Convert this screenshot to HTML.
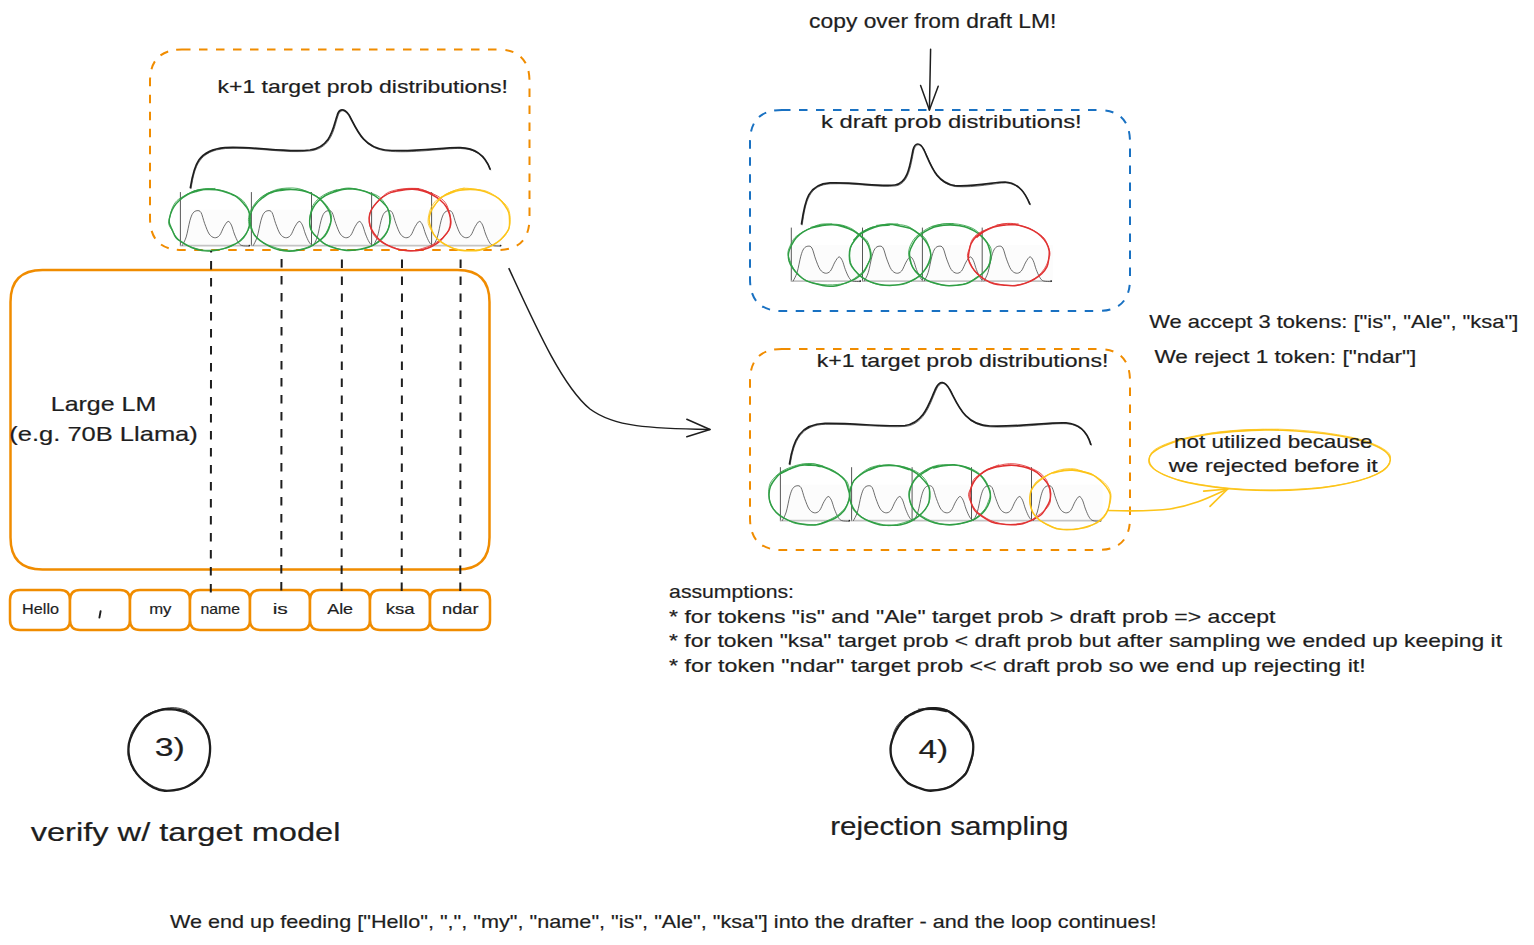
<!DOCTYPE html>
<html><head><meta charset="utf-8"><title>diagram</title>
<style>html,body{margin:0;padding:0;background:#fff;width:1534px;height:945px;overflow:hidden;position:relative}</style>
</head><body>
<svg width="1534" height="945" viewBox="0 0 1534 945" style="position:absolute;left:0;top:0">
<rect width="1534" height="945" fill="#ffffff"/>
<g font-family="Liberation Sans, sans-serif">
<path d="M182.0,49.5 L497.5,49.5 Q529.5,49.5 529.5,81.5 L529.5,218.0 Q529.5,250.0 497.5,250.0 L182.0,250.0 Q150.0,250.0 150.0,218.0 L150.0,81.5 Q150.0,49.5 182.0,49.5 Z" fill="none" stroke="#f08c00" stroke-width="2" stroke-dasharray="8.5 8.5"/>
<text x="217.5" y="92.8" font-size="19" textLength="290.5" lengthAdjust="spacingAndGlyphs" fill="#1e1e1e" stroke="#1e1e1e" stroke-width="0.2" >k+1 target prob distributions!</text>
<path d="M190.4,187.6 C194,165 198,150 225,147.6 C255,146 285,153 310,150 C331,147 333,128 337,116 C339,108 344,108 349,115 C357,130 363,147 385,150 C410,153 445,147 460,147.6 C478,148 486,158 490,169" fill="none" stroke="#1e1e1e" stroke-width="1.7" stroke-linecap="round"/>
<path d="M190.4,187.6 C194,165 198,150 225,147.6 C255,146 285,153 310,150 C331,147 333,128 337,116 C339,108 344,108 349,115 C357,130 363,147 385,150 C410,153 445,147 460,147.6 C478,148 486,158 490,169" fill="none" stroke="#1e1e1e" stroke-width="0.8" stroke-linecap="round" transform="translate(0.7,0.9)" opacity="0.8"/>
<rect x="180.4" y="191.1" width="70" height="56" fill="#ffffff"/>
<rect x="181.4" y="209.6" width="70" height="36" fill="#fcfcfc"/>
<line x1="180.4" y1="192.1" x2="180.4" y2="246.1" stroke="#444" stroke-width="0.9"/>
<line x1="180.4" y1="245.6" x2="249.4" y2="245.6" stroke="#c4c4c4" stroke-width="1.7"/>
<circle cx="249.4" cy="245.6" r="0.9" fill="#222"/>
<path d="M182.10,245.80 C182.78,244.32 184.90,241.13 186.20,236.95 C187.50,232.77 188.78,224.66 189.90,220.70 C191.02,216.74 191.72,214.87 192.90,213.20 C194.08,211.53 195.60,210.82 196.95,210.70 C198.30,210.58 199.71,210.35 201.00,212.50 C202.29,214.65 203.33,220.02 204.70,223.60 C206.07,227.18 207.58,231.65 209.20,234.00 C210.82,236.35 212.68,237.45 214.40,237.70 C216.12,237.95 217.90,237.35 219.50,235.50 C221.10,233.65 222.57,228.95 224.00,226.60 C225.43,224.25 226.87,221.65 228.10,221.40 C229.33,221.15 230.35,223.00 231.40,225.10 C232.45,227.20 233.28,231.17 234.40,234.00 C235.52,236.83 236.87,240.18 238.10,242.10 C239.33,244.02 239.97,244.83 241.80,245.50 C243.63,246.17 247.88,246.00 249.10,246.10" fill="none" stroke="#484848" stroke-width="0.8"/>
<rect x="251.4" y="191.1" width="70" height="56" fill="#ffffff"/>
<rect x="252.4" y="209.6" width="70" height="36" fill="#fcfcfc"/>
<line x1="251.4" y1="192.1" x2="251.4" y2="246.1" stroke="#444" stroke-width="0.9"/>
<line x1="251.4" y1="245.6" x2="320.4" y2="245.6" stroke="#c4c4c4" stroke-width="1.7"/>
<circle cx="320.4" cy="245.6" r="0.9" fill="#222"/>
<path d="M253.10,245.80 C253.78,244.32 255.90,241.13 257.20,236.95 C258.50,232.77 259.78,224.66 260.90,220.70 C262.02,216.74 262.72,214.87 263.90,213.20 C265.07,211.53 266.60,210.82 267.95,210.70 C269.30,210.58 270.71,210.35 272.00,212.50 C273.29,214.65 274.33,220.02 275.70,223.60 C277.07,227.18 278.58,231.65 280.20,234.00 C281.82,236.35 283.68,237.45 285.40,237.70 C287.12,237.95 288.90,237.35 290.50,235.50 C292.10,233.65 293.57,228.95 295.00,226.60 C296.43,224.25 297.87,221.65 299.10,221.40 C300.33,221.15 301.35,223.00 302.40,225.10 C303.45,227.20 304.28,231.17 305.40,234.00 C306.52,236.83 307.87,240.18 309.10,242.10 C310.33,244.02 310.97,244.83 312.80,245.50 C314.63,246.17 318.88,246.00 320.10,246.10" fill="none" stroke="#484848" stroke-width="0.8"/>
<rect x="311.5" y="191.1" width="70" height="56" fill="#ffffff"/>
<rect x="312.5" y="209.6" width="70" height="36" fill="#fcfcfc"/>
<line x1="311.5" y1="192.1" x2="311.5" y2="246.1" stroke="#444" stroke-width="0.9"/>
<line x1="311.5" y1="245.6" x2="380.5" y2="245.6" stroke="#c4c4c4" stroke-width="1.7"/>
<circle cx="380.5" cy="245.6" r="0.9" fill="#222"/>
<path d="M313.20,245.80 C313.88,244.32 316.00,241.13 317.30,236.95 C318.60,232.77 319.88,224.66 321.00,220.70 C322.12,216.74 322.82,214.87 324.00,213.20 C325.18,211.53 326.70,210.82 328.05,210.70 C329.40,210.58 330.81,210.35 332.10,212.50 C333.39,214.65 334.43,220.02 335.80,223.60 C337.17,227.18 338.68,231.65 340.30,234.00 C341.92,236.35 343.78,237.45 345.50,237.70 C347.22,237.95 349.00,237.35 350.60,235.50 C352.20,233.65 353.67,228.95 355.10,226.60 C356.53,224.25 357.97,221.65 359.20,221.40 C360.43,221.15 361.45,223.00 362.50,225.10 C363.55,227.20 364.38,231.17 365.50,234.00 C366.62,236.83 367.97,240.18 369.20,242.10 C370.43,244.02 371.07,244.83 372.90,245.50 C374.73,246.17 378.98,246.00 380.20,246.10" fill="none" stroke="#484848" stroke-width="0.8"/>
<rect x="371.6" y="191.1" width="70" height="56" fill="#ffffff"/>
<rect x="372.6" y="209.6" width="70" height="36" fill="#fcfcfc"/>
<line x1="371.6" y1="192.1" x2="371.6" y2="246.1" stroke="#444" stroke-width="0.9"/>
<line x1="371.6" y1="245.6" x2="440.6" y2="245.6" stroke="#c4c4c4" stroke-width="1.7"/>
<circle cx="440.6" cy="245.6" r="0.9" fill="#222"/>
<path d="M373.30,245.80 C373.98,244.32 376.10,241.13 377.40,236.95 C378.70,232.77 379.98,224.66 381.10,220.70 C382.22,216.74 382.93,214.87 384.10,213.20 C385.28,211.53 386.80,210.82 388.15,210.70 C389.50,210.58 390.91,210.35 392.20,212.50 C393.49,214.65 394.53,220.02 395.90,223.60 C397.27,227.18 398.78,231.65 400.40,234.00 C402.02,236.35 403.88,237.45 405.60,237.70 C407.32,237.95 409.10,237.35 410.70,235.50 C412.30,233.65 413.77,228.95 415.20,226.60 C416.63,224.25 418.07,221.65 419.30,221.40 C420.53,221.15 421.55,223.00 422.60,225.10 C423.65,227.20 424.48,231.17 425.60,234.00 C426.72,236.83 428.07,240.18 429.30,242.10 C430.53,244.02 431.17,244.83 433.00,245.50 C434.83,246.17 439.08,246.00 440.30,246.10" fill="none" stroke="#484848" stroke-width="0.8"/>
<rect x="431.6" y="191.1" width="70" height="56" fill="#ffffff"/>
<rect x="432.6" y="209.6" width="70" height="36" fill="#fcfcfc"/>
<line x1="431.6" y1="192.1" x2="431.6" y2="246.1" stroke="#444" stroke-width="0.9"/>
<line x1="431.6" y1="245.6" x2="500.6" y2="245.6" stroke="#c4c4c4" stroke-width="1.7"/>
<circle cx="500.6" cy="245.6" r="0.9" fill="#222"/>
<path d="M433.30,245.80 C433.98,244.32 436.10,241.13 437.40,236.95 C438.70,232.77 439.98,224.66 441.10,220.70 C442.22,216.74 442.93,214.87 444.10,213.20 C445.28,211.53 446.80,210.82 448.15,210.70 C449.50,210.58 450.91,210.35 452.20,212.50 C453.49,214.65 454.53,220.02 455.90,223.60 C457.27,227.18 458.78,231.65 460.40,234.00 C462.02,236.35 463.88,237.45 465.60,237.70 C467.32,237.95 469.10,237.35 470.70,235.50 C472.30,233.65 473.77,228.95 475.20,226.60 C476.63,224.25 478.07,221.65 479.30,221.40 C480.53,221.15 481.55,223.00 482.60,225.10 C483.65,227.20 484.48,231.17 485.60,234.00 C486.72,236.83 488.07,240.18 489.30,242.10 C490.53,244.02 491.17,244.83 493.00,245.50 C494.83,246.17 499.08,246.00 500.30,246.10" fill="none" stroke="#484848" stroke-width="0.8"/>
<path d="M179.80,199.96 C181.05,199.02 184.44,195.77 187.32,194.32 C190.19,192.86 193.73,192.08 197.05,191.23 C200.38,190.38 203.80,189.46 207.25,189.24 C210.70,189.02 214.38,189.32 217.77,189.90 C221.16,190.48 224.45,191.56 227.59,192.70 C230.73,193.85 234.04,195.06 236.63,196.79 C239.23,198.51 241.22,200.85 243.16,203.06 C245.09,205.27 247.12,207.57 248.24,210.05 C249.37,212.53 249.72,215.30 249.89,217.94 C250.06,220.57 249.86,223.26 249.26,225.86 C248.66,228.46 247.69,231.09 246.29,233.52 C244.88,235.95 243.14,238.49 240.81,240.45 C238.49,242.41 235.30,243.87 232.33,245.28 C229.36,246.69 226.27,247.97 223.01,248.90 C219.74,249.83 216.24,250.56 212.76,250.85 C209.27,251.13 205.53,251.14 202.09,250.62 C198.66,250.10 195.24,248.97 192.14,247.72 C189.03,246.47 186.16,244.85 183.45,243.14 C180.75,241.42 177.78,239.63 175.91,237.42 C174.03,235.20 173.32,232.39 172.20,229.84 C171.07,227.29 169.45,224.74 169.16,222.11 C168.88,219.49 169.70,216.69 170.51,214.10 C171.32,211.52 172.46,208.94 174.02,206.59 C175.57,204.23 177.58,201.98 179.83,199.98 C182.08,197.98 184.72,196.14 187.54,194.58 C190.37,193.01 193.48,191.42 196.76,190.59 C200.05,189.75 203.77,189.71 207.28,189.56 C210.79,189.41 216.06,189.68 217.82,189.70" fill="none" stroke="#2f9e44" stroke-width="1.5" stroke-linecap="round"/>
<path d="M194.15,191.02 C195.85,190.63 200.86,188.94 204.32,188.64 C207.77,188.34 211.44,188.79 214.88,189.23 C218.33,189.66 221.77,190.26 224.99,191.22 C228.22,192.17 231.34,193.48 234.24,194.97 C237.14,196.46 240.21,198.11 242.41,200.17 C244.61,202.23 246.16,204.84 247.44,207.33 C248.72,209.82 249.54,212.48 250.07,215.13 C250.61,217.77 251.04,220.55 250.65,223.20 C250.26,225.84 249.14,228.54 247.75,230.99 C246.36,233.44 244.34,235.70 242.29,237.90 C240.24,240.09 238.14,242.43 235.44,244.15 C232.74,245.86 229.38,247.25 226.08,248.19 C222.77,249.12 219.12,249.41 215.61,249.75 C212.10,250.10 208.49,250.53 205.00,250.27 C201.52,250.01 198.02,249.12 194.69,248.17 C191.36,247.22 187.90,246.15 185.03,244.56 C182.17,242.98 179.56,240.87 177.52,238.67 C175.48,236.48 174.26,233.87 172.79,231.39 C171.33,228.92 169.17,226.42 168.74,223.80 C168.31,221.18 169.59,218.34 170.19,215.68 C170.78,213.02 171.17,210.35 172.31,207.82 C173.45,205.30 174.89,202.61 177.05,200.53 C179.21,198.45 182.43,196.95 185.27,195.34 C188.11,193.73 190.88,191.88 194.07,190.88 C197.27,189.87 200.95,189.74 204.44,189.33 C207.93,188.91 213.25,188.56 215.02,188.40" fill="none" stroke="#2f9e44" stroke-width="0.9" stroke-linecap="round" opacity="0.9"/>
<path d="M270.52,192.92 C272.15,192.39 276.91,190.33 280.31,189.74 C283.71,189.15 287.40,189.29 290.92,189.38 C294.44,189.47 298.08,189.56 301.44,190.27 C304.80,190.97 308.12,192.21 311.11,193.61 C314.09,195.01 316.96,196.74 319.35,198.67 C321.75,200.61 323.75,202.91 325.48,205.23 C327.21,207.56 328.82,210.06 329.75,212.64 C330.67,215.22 331.17,218.05 331.02,220.71 C330.87,223.38 329.88,226.08 328.84,228.64 C327.80,231.20 326.64,233.86 324.77,236.08 C322.90,238.31 320.15,240.13 317.61,241.98 C315.08,243.83 312.56,245.83 309.56,247.18 C306.56,248.53 303.04,249.38 299.63,250.06 C296.21,250.73 292.58,251.28 289.06,251.24 C285.54,251.21 281.85,250.69 278.52,249.84 C275.19,248.99 272.04,247.59 269.09,246.15 C266.14,244.71 263.28,243.08 260.81,241.20 C258.35,239.32 255.90,237.20 254.29,234.86 C252.69,232.52 252.00,229.78 251.21,227.19 C250.42,224.59 249.51,221.92 249.56,219.30 C249.61,216.67 250.47,213.96 251.51,211.44 C252.55,208.92 253.98,206.41 255.79,204.18 C257.60,201.94 259.95,199.92 262.39,198.02 C264.83,196.12 267.38,194.04 270.40,192.77 C273.42,191.50 277.10,190.96 280.52,190.40 C283.94,189.85 287.45,189.42 290.92,189.44 C294.39,189.46 297.94,189.88 301.34,190.54 C304.73,191.19 309.62,192.92 311.28,193.40" fill="none" stroke="#2f9e44" stroke-width="1.5" stroke-linecap="round"/>
<path d="M259.47,198.94 C260.79,198.03 264.50,195.09 267.38,193.52 C270.27,191.95 273.44,190.43 276.78,189.52 C280.12,188.60 283.84,188.19 287.41,188.02 C290.99,187.86 294.78,187.88 298.21,188.53 C301.63,189.17 304.86,190.62 307.97,191.91 C311.09,193.19 314.26,194.50 316.89,196.24 C319.52,197.98 321.71,200.17 323.78,202.36 C325.85,204.55 328.03,206.84 329.33,209.35 C330.62,211.86 331.53,214.74 331.54,217.42 C331.55,220.11 330.30,222.85 329.38,225.44 C328.46,228.04 327.54,230.62 326.02,233.00 C324.49,235.37 322.52,237.68 320.23,239.67 C317.95,241.65 315.18,243.41 312.30,244.92 C309.43,246.44 306.28,247.84 302.99,248.76 C299.70,249.69 296.06,250.34 292.56,250.46 C289.06,250.58 285.39,250.12 282.01,249.47 C278.62,248.82 275.40,247.71 272.24,246.56 C269.09,245.40 265.78,244.25 263.11,242.56 C260.43,240.88 258.19,238.66 256.21,236.45 C254.22,234.24 252.50,231.82 251.21,229.31 C249.92,226.80 248.72,224.06 248.47,221.38 C248.21,218.69 248.84,215.84 249.67,213.21 C250.50,210.58 251.84,208.00 253.44,205.60 C255.03,203.19 256.94,200.82 259.24,198.79 C261.55,196.75 264.26,194.74 267.26,193.37 C270.26,192.01 275.59,191.06 277.25,190.59" fill="none" stroke="#2f9e44" stroke-width="0.9" stroke-linecap="round" opacity="0.9"/>
<path d="M334.37,191.31 C336.08,190.95 341.16,189.48 344.65,189.12 C348.15,188.77 351.86,188.78 355.33,189.19 C358.80,189.61 362.24,190.56 365.45,191.63 C368.65,192.71 371.86,194.00 374.58,195.64 C377.30,197.28 379.59,199.38 381.75,201.47 C383.92,203.56 386.25,205.74 387.57,208.16 C388.88,210.59 389.29,213.40 389.63,216.03 C389.98,218.66 390.06,221.36 389.64,223.97 C389.22,226.58 388.40,229.25 387.10,231.68 C385.79,234.12 383.90,236.45 381.81,238.56 C379.72,240.67 377.29,242.73 374.54,244.32 C371.79,245.90 368.52,247.12 365.30,248.08 C362.07,249.04 358.63,249.73 355.21,250.08 C351.79,250.44 348.19,250.55 344.77,250.22 C341.35,249.89 337.91,249.10 334.69,248.12 C331.47,247.14 328.17,245.94 325.45,244.34 C322.72,242.73 320.54,240.56 318.32,238.49 C316.11,236.42 313.60,234.33 312.17,231.92 C310.73,229.51 310.03,226.69 309.71,224.04 C309.39,221.39 309.74,218.65 310.26,216.02 C310.79,213.40 311.57,210.75 312.86,208.30 C314.15,205.85 315.92,203.44 318.01,201.34 C320.11,199.23 322.67,197.24 325.44,195.66 C328.22,194.09 331.47,192.95 334.67,191.86 C337.87,190.78 341.21,189.62 344.66,189.15 C348.10,188.67 351.89,188.61 355.36,189.02 C358.83,189.42 362.27,190.48 365.48,191.57 C368.69,192.67 373.11,194.91 374.64,195.58" fill="none" stroke="#2f9e44" stroke-width="1.5" stroke-linecap="round"/>
<path d="M320.05,199.16 C321.33,198.24 324.86,195.16 327.73,193.68 C330.61,192.20 333.99,191.23 337.30,190.28 C340.61,189.33 344.12,188.13 347.59,188.00 C351.06,187.87 354.73,188.78 358.12,189.49 C361.51,190.21 364.67,191.23 367.92,192.28 C371.18,193.33 374.96,194.10 377.66,195.78 C380.36,197.46 382.38,200.00 384.13,202.34 C385.87,204.68 387.01,207.26 388.12,209.80 C389.24,212.34 390.64,214.97 390.81,217.59 C390.98,220.21 389.84,222.91 389.12,225.53 C388.41,228.16 387.84,230.84 386.51,233.33 C385.17,235.81 383.41,238.38 381.12,240.44 C378.84,242.51 375.81,244.27 372.78,245.71 C369.75,247.15 366.35,248.36 362.95,249.08 C359.54,249.80 355.88,249.94 352.35,250.02 C348.83,250.10 345.20,250.14 341.80,249.58 C338.40,249.03 335.17,247.82 331.96,246.70 C328.75,245.57 325.24,244.54 322.55,242.84 C319.87,241.13 317.83,238.72 315.87,236.46 C313.91,234.20 311.84,231.82 310.80,229.27 C309.75,226.73 309.62,223.87 309.58,221.19 C309.53,218.52 309.95,215.86 310.53,213.21 C311.11,210.56 311.65,207.78 313.04,205.30 C314.43,202.82 316.50,200.39 318.87,198.35 C321.23,196.32 324.21,194.56 327.23,193.10 C330.25,191.64 335.36,190.16 336.99,189.58" fill="none" stroke="#2f9e44" stroke-width="0.9" stroke-linecap="round" opacity="0.9"/>
<path d="M391.98,192.17 C393.68,191.82 398.73,190.52 402.18,190.03 C405.63,189.55 409.20,189.10 412.67,189.25 C416.13,189.41 419.72,190.05 422.98,190.96 C426.23,191.88 429.36,193.25 432.20,194.76 C435.04,196.26 437.72,198.03 440.03,199.99 C442.35,201.94 444.53,204.13 446.09,206.48 C447.66,208.82 448.68,211.45 449.44,214.05 C450.20,216.64 450.74,219.37 450.64,222.04 C450.55,224.71 450.04,227.54 448.86,230.05 C447.69,232.56 445.58,234.86 443.61,237.10 C441.64,239.33 439.61,241.64 437.04,243.47 C434.46,245.29 431.33,246.84 428.16,248.03 C424.98,249.22 421.46,250.19 417.99,250.62 C414.52,251.05 410.83,250.89 407.34,250.61 C403.86,250.33 400.35,249.79 397.07,248.92 C393.79,248.05 390.54,246.86 387.67,245.39 C384.79,243.93 382.09,242.10 379.81,240.12 C377.53,238.13 375.60,235.84 373.99,233.49 C372.37,231.14 370.94,228.61 370.13,226.02 C369.32,223.43 368.92,220.62 369.11,217.95 C369.30,215.28 370.06,212.50 371.27,209.99 C372.48,207.48 374.37,205.10 376.36,202.89 C378.34,200.68 380.59,198.52 383.19,196.73 C385.79,194.94 388.77,193.22 391.94,192.13 C395.11,191.03 398.76,190.66 402.21,190.16 C405.67,189.66 409.18,189.07 412.68,189.12 C416.18,189.17 419.86,189.64 423.19,190.48 C426.53,191.33 431.12,193.57 432.70,194.18" fill="none" stroke="#e03131" stroke-width="1.5" stroke-linecap="round"/>
<path d="M397.48,189.93 C399.23,189.75 404.44,189.08 407.97,188.88 C411.50,188.67 415.25,188.18 418.67,188.70 C422.08,189.22 425.28,190.78 428.45,192.01 C431.63,193.24 434.97,194.40 437.72,196.10 C440.47,197.80 443.15,199.91 444.97,202.21 C446.79,204.52 447.72,207.32 448.65,209.92 C449.58,212.52 450.23,215.16 450.57,217.84 C450.91,220.53 451.33,223.39 450.68,226.03 C450.03,228.67 448.49,231.36 446.68,233.67 C444.87,235.97 442.31,237.99 439.83,239.88 C437.35,241.77 434.71,243.58 431.79,245.00 C428.88,246.43 425.62,247.46 422.34,248.45 C419.06,249.43 415.60,250.63 412.10,250.91 C408.59,251.19 404.73,250.85 401.33,250.12 C397.93,249.40 394.88,247.80 391.70,246.56 C388.52,245.33 385.03,244.39 382.25,242.73 C379.47,241.07 376.91,238.88 375.01,236.59 C373.12,234.30 371.82,231.60 370.90,228.99 C369.99,226.38 369.67,223.64 369.52,220.95 C369.37,218.27 369.23,215.46 370.02,212.88 C370.81,210.31 372.55,207.81 374.27,205.50 C376.00,203.20 378.19,201.17 380.38,199.06 C382.56,196.95 384.55,194.39 387.38,192.83 C390.22,191.27 393.96,190.44 397.38,189.70 C400.81,188.97 404.38,188.60 407.94,188.40 C411.50,188.20 416.92,188.49 418.72,188.51" fill="none" stroke="#e03131" stroke-width="0.9" stroke-linecap="round" opacity="0.9"/>
<path d="M441.13,197.54 C442.57,196.75 446.64,193.96 449.77,192.76 C452.89,191.56 456.46,190.91 459.89,190.35 C463.31,189.80 466.84,189.39 470.31,189.43 C473.77,189.47 477.37,189.86 480.70,190.60 C484.03,191.33 487.27,192.51 490.29,193.84 C493.30,195.18 496.38,196.71 498.78,198.61 C501.19,200.51 503.06,202.90 504.72,205.24 C506.38,207.58 507.92,210.08 508.73,212.64 C509.53,215.21 509.52,217.94 509.55,220.61 C509.57,223.28 509.80,226.13 508.87,228.67 C507.95,231.21 505.90,233.61 504.01,235.86 C502.12,238.11 500.01,240.32 497.52,242.18 C495.04,244.05 492.13,245.70 489.09,247.04 C486.06,248.39 482.71,249.65 479.31,250.26 C475.91,250.88 472.23,250.77 468.69,250.72 C465.15,250.67 461.45,250.68 458.10,249.95 C454.74,249.22 451.52,247.79 448.55,246.36 C445.58,244.93 442.69,243.27 440.27,241.36 C437.84,239.44 435.59,237.22 434.00,234.87 C432.41,232.52 431.56,229.85 430.74,227.27 C429.92,224.69 429.04,222.01 429.08,219.38 C429.12,216.76 429.92,214.03 430.96,211.51 C432.01,209.00 433.64,206.62 435.35,204.30 C437.05,201.98 438.73,199.43 441.19,197.59 C443.66,195.76 447.04,194.53 450.15,193.28 C453.25,192.04 456.45,190.83 459.81,190.12 C463.17,189.41 466.82,188.96 470.32,189.00 C473.81,189.04 479.04,190.14 480.78,190.37" fill="none" stroke="#fcc419" stroke-width="1.5" stroke-linecap="round"/>
<path d="M444.74,194.73 C446.27,194.05 450.71,191.73 453.96,190.66 C457.21,189.58 460.74,188.51 464.23,188.27 C467.71,188.03 471.34,188.80 474.85,189.21 C478.35,189.62 482.05,189.73 485.26,190.72 C488.48,191.71 491.43,193.46 494.15,195.13 C496.88,196.81 499.36,198.73 501.62,200.78 C503.88,202.84 506.30,205.04 507.69,207.48 C509.09,209.92 509.59,212.76 509.98,215.44 C510.37,218.12 510.45,220.87 510.05,223.55 C509.65,226.22 508.86,228.96 507.58,231.48 C506.30,234.01 504.62,236.60 502.38,238.69 C500.15,240.77 497.07,242.40 494.18,243.99 C491.30,245.58 488.33,247.19 485.08,248.22 C481.84,249.24 478.21,249.83 474.71,250.15 C471.21,250.47 467.57,250.46 464.05,250.14 C460.54,249.82 456.88,249.29 453.64,248.25 C450.40,247.21 447.39,245.56 444.62,243.89 C441.85,242.22 439.15,240.35 437.01,238.23 C434.87,236.11 433.26,233.63 431.80,231.17 C430.34,228.70 428.76,226.09 428.25,223.43 C427.73,220.78 428.21,217.92 428.71,215.23 C429.21,212.53 429.92,209.78 431.23,207.26 C432.54,204.73 434.27,202.13 436.57,200.09 C438.87,198.05 442.12,196.59 445.02,195.01 C447.92,193.44 450.76,191.81 453.96,190.65 C457.15,189.49 462.48,188.49 464.19,188.05" fill="none" stroke="#fcc419" stroke-width="0.9" stroke-linecap="round" opacity="0.9"/>
<path d="M42.5,270.0 L457.5,270.0 Q489.5,270.0 489.5,302.0 L489.5,537.5 Q489.5,569.5 457.5,569.5 L42.5,569.5 Q10.5,569.5 10.5,537.5 L10.5,302.0 Q10.5,270.0 42.5,270.0 Z" fill="none" stroke="#f08c00" stroke-width="2.5"/>
<text x="50.8" y="410.8" font-size="21" textLength="105.4" lengthAdjust="spacingAndGlyphs" fill="#1e1e1e" stroke="#1e1e1e" stroke-width="0.2" >Large LM</text>
<text x="9.3" y="441.0" font-size="21" textLength="188.5" lengthAdjust="spacingAndGlyphs" fill="#1e1e1e" stroke="#1e1e1e" stroke-width="0.2" >(e.g. 70B Llama)</text>
<path d="M20.0,590.0 L60.0,590.0 Q70.0,590.0 70.0,600.0 L70.0,620.0 Q70.0,630.0 60.0,630.0 L20.0,630.0 Q10.0,630.0 10.0,620.0 L10.0,600.0 Q10.0,590.0 20.0,590.0 Z" fill="#ffffff" stroke="#f08c00" stroke-width="2.5"/>
<path d="M80.0,590.0 L120.0,590.0 Q130.0,590.0 130.0,600.0 L130.0,620.0 Q130.0,630.0 120.0,630.0 L80.0,630.0 Q70.0,630.0 70.0,620.0 L70.0,600.0 Q70.0,590.0 80.0,590.0 Z" fill="#ffffff" stroke="#f08c00" stroke-width="2.5"/>
<path d="M140.0,590.0 L180.0,590.0 Q190.0,590.0 190.0,600.0 L190.0,620.0 Q190.0,630.0 180.0,630.0 L140.0,630.0 Q130.0,630.0 130.0,620.0 L130.0,600.0 Q130.0,590.0 140.0,590.0 Z" fill="#ffffff" stroke="#f08c00" stroke-width="2.5"/>
<path d="M200.0,590.0 L240.0,590.0 Q250.0,590.0 250.0,600.0 L250.0,620.0 Q250.0,630.0 240.0,630.0 L200.0,630.0 Q190.0,630.0 190.0,620.0 L190.0,600.0 Q190.0,590.0 200.0,590.0 Z" fill="#ffffff" stroke="#f08c00" stroke-width="2.5"/>
<path d="M260.0,590.0 L300.0,590.0 Q310.0,590.0 310.0,600.0 L310.0,620.0 Q310.0,630.0 300.0,630.0 L260.0,630.0 Q250.0,630.0 250.0,620.0 L250.0,600.0 Q250.0,590.0 260.0,590.0 Z" fill="#ffffff" stroke="#f08c00" stroke-width="2.5"/>
<path d="M320.0,590.0 L360.0,590.0 Q370.0,590.0 370.0,600.0 L370.0,620.0 Q370.0,630.0 360.0,630.0 L320.0,630.0 Q310.0,630.0 310.0,620.0 L310.0,600.0 Q310.0,590.0 320.0,590.0 Z" fill="#ffffff" stroke="#f08c00" stroke-width="2.5"/>
<path d="M380.0,590.0 L420.0,590.0 Q430.0,590.0 430.0,600.0 L430.0,620.0 Q430.0,630.0 420.0,630.0 L380.0,630.0 Q370.0,630.0 370.0,620.0 L370.0,600.0 Q370.0,590.0 380.0,590.0 Z" fill="#ffffff" stroke="#f08c00" stroke-width="2.5"/>
<path d="M440.0,590.0 L480.0,590.0 Q490.0,590.0 490.0,600.0 L490.0,620.0 Q490.0,630.0 480.0,630.0 L440.0,630.0 Q430.0,630.0 430.0,620.0 L430.0,600.0 Q430.0,590.0 440.0,590.0 Z" fill="#ffffff" stroke="#f08c00" stroke-width="2.5"/>
<text x="22.1" y="614.2" font-size="15" textLength="36.9" lengthAdjust="spacingAndGlyphs" fill="#1e1e1e" stroke="#1e1e1e" stroke-width="0.2" >Hello</text>
<path d="M100.6,611.3 L99.4,617.6" stroke="#1e1e1e" stroke-width="1.9" stroke-linecap="round"/>
<text x="149.2" y="614.2" font-size="15" textLength="22.3" lengthAdjust="spacingAndGlyphs" fill="#1e1e1e" stroke="#1e1e1e" stroke-width="0.2" >my</text>
<text x="200.5" y="614.2" font-size="15" textLength="39.5" lengthAdjust="spacingAndGlyphs" fill="#1e1e1e" stroke="#1e1e1e" stroke-width="0.2" >name</text>
<text x="272.7" y="614.2" font-size="15" textLength="15.2" lengthAdjust="spacingAndGlyphs" fill="#1e1e1e" stroke="#1e1e1e" stroke-width="0.2" >is</text>
<text x="327.2" y="614.2" font-size="15" textLength="25.9" lengthAdjust="spacingAndGlyphs" fill="#1e1e1e" stroke="#1e1e1e" stroke-width="0.2" >Ale</text>
<text x="385.8" y="614.2" font-size="15" textLength="28.9" lengthAdjust="spacingAndGlyphs" fill="#1e1e1e" stroke="#1e1e1e" stroke-width="0.2" >ksa</text>
<text x="442.0" y="614.2" font-size="15" textLength="36.5" lengthAdjust="spacingAndGlyphs" fill="#1e1e1e" stroke="#1e1e1e" stroke-width="0.2" >ndar</text>
<line x1="210.8" y1="592.4" x2="211.1" y2="251" stroke="#1e1e1e" stroke-width="2" stroke-dasharray="8.5 8.5"/>
<line x1="281.3" y1="590.5" x2="281.6" y2="251" stroke="#1e1e1e" stroke-width="2" stroke-dasharray="8.5 8.5"/>
<line x1="341.6" y1="591" x2="341.9" y2="251" stroke="#1e1e1e" stroke-width="2" stroke-dasharray="8.5 8.5"/>
<line x1="401.7" y1="591" x2="402.0" y2="251" stroke="#1e1e1e" stroke-width="2" stroke-dasharray="8.5 8.5"/>
<line x1="460.3" y1="591" x2="460.6" y2="251" stroke="#1e1e1e" stroke-width="2" stroke-dasharray="8.5 8.5"/>
<path d="M509,268.6 C535,325 562,386 590,409 C614,427 650,428.5 710,429.5" fill="none" stroke="#1e1e1e" stroke-width="1.5" stroke-linecap="round"/>
<path d="M686.8,419.3 L710,429.5 L686.8,436.7" fill="none" stroke="#1e1e1e" stroke-width="1.5" stroke-linecap="round" stroke-linejoin="round"/>
<text x="809.1" y="28.2" font-size="20" textLength="247.3" lengthAdjust="spacingAndGlyphs" fill="#1e1e1e" stroke="#1e1e1e" stroke-width="0.2" >copy over from draft LM!</text>
<path d="M930.6,49.3 L929.4,110" fill="none" stroke="#1e1e1e" stroke-width="1.5" stroke-linecap="round"/>
<path d="M920.6,85.4 L929.4,110 L938.2,86.3" fill="none" stroke="#1e1e1e" stroke-width="1.5" stroke-linecap="round" stroke-linejoin="round"/>
<path d="M782.0,110.0 L1098.0,110.0 Q1130.0,110.0 1130.0,142.0 L1130.0,279.0 Q1130.0,311.0 1098.0,311.0 L782.0,311.0 Q750.0,311.0 750.0,279.0 L750.0,142.0 Q750.0,110.0 782.0,110.0 Z" fill="none" stroke="#1971c2" stroke-width="2" stroke-dasharray="8.5 8.5"/>
<text x="821.0" y="128.0" font-size="19" textLength="260.7" lengthAdjust="spacingAndGlyphs" fill="#1e1e1e" stroke="#1e1e1e" stroke-width="0.2" >k draft prob distributions!</text>
<path d="M801.5,224 C805,200 808,184 830,182.9 C855,182 880,187 895,185 C908,183 910,165 913,150 C915,142 920,142 924,150 C931,165 936,183 955,185.7 C975,187 995,182 1005,182 C1020,183 1026,195 1029.7,203.9" fill="none" stroke="#1e1e1e" stroke-width="1.7" stroke-linecap="round"/>
<path d="M801.5,224 C805,200 808,184 830,182.9 C855,182 880,187 895,185 C908,183 910,165 913,150 C915,142 920,142 924,150 C931,165 936,183 955,185.7 C975,187 995,182 1005,182 C1020,183 1026,195 1029.7,203.9" fill="none" stroke="#1e1e1e" stroke-width="0.8" stroke-linecap="round" transform="translate(0.7,0.9)" opacity="0.8"/>
<rect x="791.3" y="226.6" width="70" height="56" fill="#ffffff"/>
<rect x="792.3" y="245.1" width="70" height="36" fill="#fcfcfc"/>
<line x1="791.3" y1="227.6" x2="791.3" y2="281.6" stroke="#444" stroke-width="0.9"/>
<line x1="791.3" y1="281.1" x2="860.3" y2="281.1" stroke="#c4c4c4" stroke-width="1.7"/>
<circle cx="860.3" cy="281.1" r="0.9" fill="#222"/>
<path d="M793.00,281.30 C793.68,279.83 795.80,276.63 797.10,272.45 C798.40,268.27 799.68,260.16 800.80,256.20 C801.92,252.24 802.62,250.37 803.80,248.70 C804.97,247.03 806.50,246.32 807.85,246.20 C809.20,246.08 810.61,245.85 811.90,248.00 C813.19,250.15 814.23,255.52 815.60,259.10 C816.97,262.68 818.48,267.15 820.10,269.50 C821.72,271.85 823.58,272.95 825.30,273.20 C827.02,273.45 828.80,272.85 830.40,271.00 C832.00,269.15 833.47,264.45 834.90,262.10 C836.33,259.75 837.77,257.15 839.00,256.90 C840.23,256.65 841.25,258.50 842.30,260.60 C843.35,262.70 844.18,266.67 845.30,269.50 C846.42,272.33 847.77,275.68 849.00,277.60 C850.23,279.52 850.87,280.33 852.70,281.00 C854.53,281.67 858.78,281.50 860.00,281.60" fill="none" stroke="#484848" stroke-width="0.8"/>
<rect x="862.5" y="226.6" width="70" height="56" fill="#ffffff"/>
<rect x="863.5" y="245.1" width="70" height="36" fill="#fcfcfc"/>
<line x1="862.5" y1="227.6" x2="862.5" y2="281.6" stroke="#444" stroke-width="0.9"/>
<line x1="862.5" y1="281.1" x2="931.5" y2="281.1" stroke="#c4c4c4" stroke-width="1.7"/>
<circle cx="931.5" cy="281.1" r="0.9" fill="#222"/>
<path d="M864.20,281.30 C864.88,279.83 867.00,276.63 868.30,272.45 C869.60,268.27 870.88,260.16 872.00,256.20 C873.12,252.24 873.83,250.37 875.00,248.70 C876.17,247.03 877.70,246.32 879.05,246.20 C880.40,246.08 881.81,245.85 883.10,248.00 C884.39,250.15 885.43,255.52 886.80,259.10 C888.17,262.68 889.68,267.15 891.30,269.50 C892.92,271.85 894.78,272.95 896.50,273.20 C898.22,273.45 900.00,272.85 901.60,271.00 C903.20,269.15 904.67,264.45 906.10,262.10 C907.53,259.75 908.97,257.15 910.20,256.90 C911.43,256.65 912.45,258.50 913.50,260.60 C914.55,262.70 915.38,266.67 916.50,269.50 C917.62,272.33 918.97,275.68 920.20,277.60 C921.43,279.52 922.07,280.33 923.90,281.00 C925.73,281.67 929.98,281.50 931.20,281.60" fill="none" stroke="#484848" stroke-width="0.8"/>
<rect x="922.4" y="226.6" width="70" height="56" fill="#ffffff"/>
<rect x="923.4" y="245.1" width="70" height="36" fill="#fcfcfc"/>
<line x1="922.4" y1="227.6" x2="922.4" y2="281.6" stroke="#444" stroke-width="0.9"/>
<line x1="922.4" y1="281.1" x2="991.4" y2="281.1" stroke="#c4c4c4" stroke-width="1.7"/>
<circle cx="991.4" cy="281.1" r="0.9" fill="#222"/>
<path d="M924.10,281.30 C924.78,279.83 926.90,276.63 928.20,272.45 C929.50,268.27 930.78,260.16 931.90,256.20 C933.02,252.24 933.73,250.37 934.90,248.70 C936.07,247.03 937.60,246.32 938.95,246.20 C940.30,246.08 941.71,245.85 943.00,248.00 C944.29,250.15 945.33,255.52 946.70,259.10 C948.07,262.68 949.58,267.15 951.20,269.50 C952.82,271.85 954.68,272.95 956.40,273.20 C958.12,273.45 959.90,272.85 961.50,271.00 C963.10,269.15 964.57,264.45 966.00,262.10 C967.43,259.75 968.87,257.15 970.10,256.90 C971.33,256.65 972.35,258.50 973.40,260.60 C974.45,262.70 975.28,266.67 976.40,269.50 C977.52,272.33 978.87,275.68 980.10,277.60 C981.33,279.52 981.97,280.33 983.80,281.00 C985.63,281.67 989.88,281.50 991.10,281.60" fill="none" stroke="#484848" stroke-width="0.8"/>
<rect x="982.2" y="226.6" width="70" height="56" fill="#ffffff"/>
<rect x="983.2" y="245.1" width="70" height="36" fill="#fcfcfc"/>
<line x1="982.2" y1="227.6" x2="982.2" y2="281.6" stroke="#444" stroke-width="0.9"/>
<line x1="982.2" y1="281.1" x2="1051.2" y2="281.1" stroke="#c4c4c4" stroke-width="1.7"/>
<circle cx="1051.2" cy="281.1" r="0.9" fill="#222"/>
<path d="M983.90,281.30 C984.58,279.83 986.70,276.63 988.00,272.45 C989.30,268.27 990.58,260.16 991.70,256.20 C992.82,252.24 993.53,250.37 994.70,248.70 C995.88,247.03 997.40,246.32 998.75,246.20 C1000.10,246.08 1001.51,245.85 1002.80,248.00 C1004.09,250.15 1005.13,255.52 1006.50,259.10 C1007.87,262.68 1009.38,267.15 1011.00,269.50 C1012.62,271.85 1014.48,272.95 1016.20,273.20 C1017.92,273.45 1019.70,272.85 1021.30,271.00 C1022.90,269.15 1024.37,264.45 1025.80,262.10 C1027.23,259.75 1028.67,257.15 1029.90,256.90 C1031.13,256.65 1032.15,258.50 1033.20,260.60 C1034.25,262.70 1035.08,266.67 1036.20,269.50 C1037.32,272.33 1038.67,275.68 1039.90,277.60 C1041.13,279.52 1041.77,280.33 1043.60,281.00 C1045.43,281.67 1049.68,281.50 1050.90,281.60" fill="none" stroke="#484848" stroke-width="0.8"/>
<path d="M812.38,227.82 C814.04,227.42 818.95,225.93 822.37,225.42 C825.78,224.91 829.42,224.53 832.87,224.76 C836.32,224.98 839.79,225.85 843.06,226.77 C846.33,227.68 849.63,228.77 852.47,230.26 C855.32,231.74 857.78,233.71 860.10,235.69 C862.43,237.66 864.80,239.75 866.41,242.09 C868.02,244.43 869.12,247.10 869.79,249.72 C870.46,252.33 870.85,255.15 870.43,257.77 C870.02,260.39 868.55,262.95 867.32,265.44 C866.09,267.94 864.98,270.56 863.06,272.76 C861.15,274.97 858.59,277.03 855.85,278.67 C853.11,280.31 849.80,281.42 846.62,282.59 C843.45,283.75 840.22,285.07 836.79,285.65 C833.37,286.24 829.56,286.43 826.08,286.12 C822.59,285.80 819.22,284.67 815.88,283.76 C812.54,282.85 808.92,282.15 806.04,280.67 C803.16,279.20 800.81,276.98 798.60,274.90 C796.39,272.83 794.39,270.60 792.79,268.24 C791.18,265.87 789.66,263.32 788.97,260.71 C788.28,258.11 788.19,255.26 788.64,252.63 C789.09,250.01 790.41,247.43 791.67,244.95 C792.94,242.48 794.28,239.97 796.22,237.79 C798.15,235.60 800.59,233.52 803.26,231.83 C805.94,230.14 809.09,228.73 812.27,227.65 C815.46,226.57 818.92,225.82 822.35,225.36 C825.78,224.89 829.36,224.73 832.86,224.87 C836.35,225.01 840.08,225.29 843.32,226.21 C846.57,227.14 850.82,229.72 852.32,230.42" fill="none" stroke="#2f9e44" stroke-width="1.5" stroke-linecap="round"/>
<path d="M811.06,227.20 C812.76,226.85 817.82,225.62 821.26,225.10 C824.70,224.58 828.20,224.06 831.71,224.07 C835.21,224.09 838.93,224.38 842.29,225.17 C845.65,225.95 849.01,227.25 851.86,228.79 C854.71,230.33 856.88,232.50 859.37,234.43 C861.85,236.36 864.98,238.09 866.76,240.38 C868.54,242.67 869.29,245.52 870.03,248.18 C870.77,250.83 871.58,253.67 871.19,256.31 C870.80,258.95 868.99,261.52 867.70,264.01 C866.40,266.50 865.31,269.08 863.40,271.26 C861.49,273.43 858.78,275.21 856.25,277.07 C853.72,278.93 851.29,281.18 848.22,282.41 C845.15,283.64 841.32,284.03 837.83,284.44 C834.35,284.84 830.81,284.96 827.31,284.85 C823.81,284.74 820.25,284.44 816.82,283.77 C813.40,283.11 809.78,282.25 806.75,280.86 C803.71,279.48 800.84,277.53 798.62,275.45 C796.40,273.37 794.83,270.81 793.41,268.38 C791.99,265.94 791.01,263.42 790.09,260.84 C789.18,258.26 787.84,255.53 787.91,252.89 C787.98,250.25 789.33,247.54 790.51,244.99 C791.68,242.45 792.91,239.77 794.94,237.62 C796.97,235.47 799.95,233.74 802.69,232.08 C805.43,230.42 808.31,228.97 811.37,227.66 C814.42,226.35 817.62,224.83 821.01,224.21 C824.40,223.59 829.93,223.99 831.72,223.95" fill="none" stroke="#2f9e44" stroke-width="0.9" stroke-linecap="round" opacity="0.9"/>
<path d="M853.94,239.90 C855.06,238.85 858.16,235.52 860.67,233.63 C863.17,231.75 865.90,229.84 868.96,228.58 C872.02,227.31 875.63,226.78 879.04,226.06 C882.45,225.35 885.94,224.30 889.40,224.28 C892.86,224.26 896.37,225.29 899.79,225.97 C903.22,226.64 906.90,227.06 909.96,228.30 C913.02,229.55 915.73,231.52 918.16,233.44 C920.59,235.35 922.76,237.51 924.55,239.78 C926.34,242.05 927.86,244.52 928.90,247.05 C929.94,249.59 930.84,252.34 930.81,254.98 C930.78,257.61 929.75,260.32 928.72,262.85 C927.69,265.38 926.30,267.83 924.62,270.14 C922.94,272.45 921.06,274.82 918.64,276.70 C916.22,278.57 913.14,280.11 910.10,281.38 C907.05,282.66 903.72,283.67 900.37,284.36 C897.02,285.04 893.45,285.48 889.99,285.49 C886.53,285.50 882.97,285.07 879.61,284.42 C876.25,283.77 872.87,282.83 869.83,281.58 C866.79,280.32 863.85,278.70 861.36,276.87 C858.87,275.04 856.74,272.85 854.89,270.60 C853.04,268.36 851.18,265.93 850.26,263.40 C849.34,260.87 849.33,258.07 849.35,255.42 C849.38,252.77 849.51,250.03 850.41,247.49 C851.30,244.96 852.98,242.52 854.73,240.24 C856.48,237.96 858.46,235.66 860.91,233.82 C863.37,231.98 866.43,230.50 869.44,229.19 C872.45,227.87 875.66,226.61 878.99,225.92 C882.32,225.23 887.67,225.19 889.41,225.04" fill="none" stroke="#2f9e44" stroke-width="1.5" stroke-linecap="round"/>
<path d="M876.58,225.36 C878.33,225.18 883.59,224.44 887.11,224.28 C890.64,224.13 894.21,224.07 897.72,224.43 C901.24,224.80 905.10,225.23 908.19,226.47 C911.27,227.71 913.57,230.07 916.24,231.87 C918.91,233.67 922.20,235.13 924.21,237.28 C926.23,239.43 927.28,242.21 928.33,244.77 C929.38,247.33 930.16,249.97 930.51,252.63 C930.85,255.29 931.11,258.14 930.39,260.74 C929.67,263.33 927.85,265.83 926.19,268.19 C924.52,270.56 922.69,272.90 920.42,274.94 C918.15,276.99 915.46,278.87 912.57,280.44 C909.67,282.02 906.45,283.62 903.07,284.40 C899.70,285.18 895.89,284.98 892.30,285.12 C888.72,285.26 885.03,285.69 881.55,285.24 C878.07,284.80 874.57,283.69 871.40,282.46 C868.23,281.23 865.13,279.68 862.53,277.87 C859.93,276.06 857.69,273.85 855.81,271.61 C853.92,269.36 852.23,266.91 851.21,264.40 C850.19,261.88 849.85,259.16 849.68,256.53 C849.52,253.91 849.57,251.21 850.25,248.65 C850.92,246.09 852.33,243.63 853.73,241.20 C855.14,238.77 856.40,236.04 858.66,234.05 C860.92,232.05 864.24,230.61 867.27,229.24 C870.29,227.88 873.49,226.66 876.80,225.85 C880.11,225.05 883.62,224.74 887.13,224.43 C890.64,224.11 896.07,224.03 897.85,223.95" fill="none" stroke="#2f9e44" stroke-width="0.9" stroke-linecap="round" opacity="0.9"/>
<path d="M933.51,227.07 C935.23,226.75 940.34,225.50 943.81,225.16 C947.28,224.81 950.87,224.73 954.33,225.01 C957.79,225.29 961.30,225.92 964.57,226.84 C967.84,227.76 971.14,228.97 973.93,230.53 C976.72,232.09 979.12,234.15 981.31,236.21 C983.50,238.26 985.66,240.47 987.08,242.86 C988.50,245.24 989.20,247.92 989.84,250.53 C990.48,253.15 991.16,255.89 990.92,258.53 C990.67,261.18 989.74,263.95 988.39,266.40 C987.04,268.86 985.01,271.21 982.82,273.28 C980.63,275.36 977.96,277.14 975.27,278.86 C972.57,280.57 969.81,282.51 966.63,283.58 C963.45,284.64 959.69,284.95 956.20,285.27 C952.70,285.59 949.10,285.82 945.66,285.49 C942.22,285.17 938.81,284.26 935.56,283.31 C932.30,282.37 928.98,281.31 926.12,279.82 C923.26,278.33 920.61,276.42 918.40,274.37 C916.19,272.33 914.22,269.98 912.86,267.57 C911.50,265.15 910.77,262.47 910.24,259.86 C909.70,257.25 909.22,254.50 909.63,251.91 C910.04,249.32 911.39,246.75 912.69,244.31 C914.00,241.87 915.43,239.38 917.45,237.27 C919.48,235.16 922.15,233.31 924.85,231.65 C927.55,229.99 930.48,228.34 933.64,227.29 C936.81,226.25 940.41,225.72 943.85,225.37 C947.29,225.02 950.85,224.96 954.30,225.21 C957.75,225.45 961.33,225.92 964.58,226.83 C967.82,227.74 972.24,230.05 973.77,230.69" fill="none" stroke="#2f9e44" stroke-width="1.5" stroke-linecap="round"/>
<path d="M932.41,226.75 C934.09,226.29 939.03,224.49 942.51,223.98 C945.99,223.46 949.73,223.46 953.28,223.68 C956.83,223.91 960.44,224.45 963.83,225.30 C967.21,226.16 970.73,227.24 973.59,228.81 C976.45,230.38 978.80,232.61 980.98,234.72 C983.16,236.83 984.97,239.11 986.65,241.47 C988.34,243.84 990.50,246.31 991.08,248.90 C991.66,251.49 990.50,254.33 990.14,257.01 C989.78,259.70 989.96,262.49 988.92,265.02 C987.88,267.54 986.05,270.09 983.89,272.18 C981.74,274.28 978.67,275.80 975.99,277.57 C973.32,279.35 970.90,281.52 967.83,282.83 C964.75,284.13 961.05,284.97 957.54,285.41 C954.02,285.85 950.29,285.72 946.73,285.47 C943.16,285.23 939.54,284.78 936.16,283.92 C932.79,283.06 929.28,281.92 926.48,280.31 C923.68,278.70 921.61,276.34 919.36,274.26 C917.12,272.18 914.62,270.19 913.03,267.84 C911.43,265.50 910.50,262.80 909.77,260.18 C909.04,257.56 908.43,254.78 908.63,252.11 C908.82,249.44 909.74,246.69 910.94,244.15 C912.15,241.61 913.76,239.05 915.84,236.87 C917.91,234.70 920.66,232.83 923.37,231.07 C926.09,229.31 928.94,227.47 932.13,226.30 C935.32,225.14 939.01,224.51 942.53,224.07 C946.06,223.62 951.49,223.71 953.28,223.64" fill="none" stroke="#2f9e44" stroke-width="0.9" stroke-linecap="round" opacity="0.9"/>
<path d="M976.94,237.12 C978.15,236.17 981.48,233.07 984.17,231.41 C986.86,229.76 989.89,228.21 993.07,227.19 C996.26,226.16 999.82,225.71 1003.28,225.27 C1006.74,224.82 1010.39,224.27 1013.86,224.51 C1017.33,224.76 1020.85,225.72 1024.11,226.74 C1027.37,227.76 1030.59,229.03 1033.41,230.61 C1036.23,232.18 1038.84,234.13 1041.03,236.21 C1043.21,238.29 1045.16,240.64 1046.52,243.08 C1047.88,245.52 1048.81,248.22 1049.17,250.84 C1049.54,253.45 1049.08,256.13 1048.72,258.77 C1048.36,261.41 1048.19,264.18 1047.03,266.67 C1045.86,269.15 1043.90,271.57 1041.75,273.67 C1039.59,275.76 1036.90,277.64 1034.11,279.25 C1031.32,280.87 1028.22,282.29 1025.01,283.36 C1021.79,284.42 1018.27,285.32 1014.81,285.63 C1011.36,285.94 1007.75,285.50 1004.25,285.19 C1000.75,284.89 997.05,284.76 993.81,283.81 C990.58,282.86 987.58,281.18 984.86,279.52 C982.14,277.87 979.65,275.94 977.49,273.88 C975.34,271.82 973.43,269.55 971.94,267.17 C970.45,264.79 969.03,262.19 968.54,259.59 C968.06,257.00 968.62,254.25 969.04,251.61 C969.45,248.97 969.87,246.25 971.04,243.75 C972.20,241.25 973.89,238.71 976.04,236.61 C978.18,234.51 981.06,232.73 983.90,231.16 C986.74,229.58 989.85,228.21 993.06,227.17 C996.28,226.13 999.75,225.35 1003.22,224.93 C1006.68,224.51 1012.07,224.70 1013.84,224.65" fill="none" stroke="#e03131" stroke-width="1.5" stroke-linecap="round"/>
<path d="M996.90,225.01 C998.66,224.78 1003.97,223.61 1007.48,223.63 C1010.99,223.65 1014.56,224.44 1017.95,225.13 C1021.34,225.83 1024.73,226.61 1027.83,227.80 C1030.93,228.99 1033.83,230.57 1036.53,232.27 C1039.23,233.98 1042.14,235.83 1044.01,238.05 C1045.88,240.27 1046.75,243.04 1047.75,245.61 C1048.75,248.18 1049.95,250.84 1049.99,253.46 C1050.04,256.07 1048.94,258.77 1048.02,261.32 C1047.09,263.86 1046.01,266.39 1044.45,268.72 C1042.90,271.06 1040.92,273.32 1038.67,275.34 C1036.41,277.37 1033.83,279.39 1030.91,280.88 C1027.99,282.37 1024.54,283.50 1021.14,284.28 C1017.74,285.07 1014.05,285.61 1010.53,285.62 C1007.00,285.63 1003.41,284.98 999.97,284.35 C996.52,283.72 992.99,283.05 989.86,281.85 C986.74,280.64 983.79,278.95 981.21,277.13 C978.64,275.32 976.19,273.22 974.41,270.95 C972.64,268.68 971.73,266.05 970.57,263.51 C969.40,260.98 967.57,258.37 967.42,255.76 C967.27,253.14 968.88,250.47 969.66,247.83 C970.43,245.18 970.62,242.33 972.09,239.89 C973.55,237.46 975.85,235.04 978.45,233.24 C981.06,231.44 984.63,230.41 987.72,229.07 C990.80,227.73 993.69,226.16 996.98,225.22 C1000.27,224.27 1003.91,223.60 1007.47,223.39 C1011.02,223.18 1016.50,223.86 1018.30,223.96" fill="none" stroke="#e03131" stroke-width="0.9" stroke-linecap="round" opacity="0.9"/>
<text x="1149.3" y="327.7" font-size="19" textLength="369.0" lengthAdjust="spacingAndGlyphs" fill="#1e1e1e" stroke="#1e1e1e" stroke-width="0.2" >We accept 3 tokens: ["is", "Ale", "ksa"]</text>
<text x="1154.4" y="363.0" font-size="19" textLength="261.9" lengthAdjust="spacingAndGlyphs" fill="#1e1e1e" stroke="#1e1e1e" stroke-width="0.2" >We reject 1 token: ["ndar"]</text>
<path d="M782.0,349.0 L1098.0,349.0 Q1130.0,349.0 1130.0,381.0 L1130.0,518.0 Q1130.0,550.0 1098.0,550.0 L782.0,550.0 Q750.0,550.0 750.0,518.0 L750.0,381.0 Q750.0,349.0 782.0,349.0 Z" fill="none" stroke="#f08c00" stroke-width="2" stroke-dasharray="8.5 8.5"/>
<text x="816.7" y="367.4" font-size="19" textLength="291.7" lengthAdjust="spacingAndGlyphs" fill="#1e1e1e" stroke="#1e1e1e" stroke-width="0.2" >k+1 target prob distributions!</text>
<path d="M789.5,463.9 C793,440 800,424 825,423.4 C855,423 885,427 905,425.5 C925,423 930,400 936,388 C940,380 945,381 950,390 C958,405 965,425 990,426 C1020,427 1050,422 1066,422.9 C1082,424 1088,435 1090.7,444.3" fill="none" stroke="#1e1e1e" stroke-width="1.7" stroke-linecap="round"/>
<path d="M789.5,463.9 C793,440 800,424 825,423.4 C855,423 885,427 905,425.5 C925,423 930,400 936,388 C940,380 945,381 950,390 C958,405 965,425 990,426 C1020,427 1050,422 1066,422.9 C1082,424 1088,435 1090.7,444.3" fill="none" stroke="#1e1e1e" stroke-width="0.8" stroke-linecap="round" transform="translate(0.7,0.9)" opacity="0.8"/>
<rect x="780.4" y="466.2" width="70" height="56" fill="#ffffff"/>
<rect x="781.4" y="484.7" width="70" height="36" fill="#fcfcfc"/>
<line x1="780.4" y1="467.2" x2="780.4" y2="521.2" stroke="#444" stroke-width="0.9"/>
<line x1="780.4" y1="520.7" x2="849.4" y2="520.7" stroke="#c4c4c4" stroke-width="1.7"/>
<circle cx="849.4" cy="520.7" r="0.9" fill="#222"/>
<path d="M782.10,520.90 C782.78,519.43 784.90,516.23 786.20,512.05 C787.50,507.87 788.78,499.76 789.90,495.80 C791.02,491.84 791.73,489.97 792.90,488.30 C794.07,486.63 795.60,485.92 796.95,485.80 C798.30,485.68 799.71,485.45 801.00,487.60 C802.29,489.75 803.33,495.12 804.70,498.70 C806.07,502.28 807.58,506.75 809.20,509.10 C810.82,511.45 812.68,512.55 814.40,512.80 C816.12,513.05 817.90,512.45 819.50,510.60 C821.10,508.75 822.57,504.05 824.00,501.70 C825.43,499.35 826.87,496.75 828.10,496.50 C829.33,496.25 830.35,498.10 831.40,500.20 C832.45,502.30 833.28,506.27 834.40,509.10 C835.52,511.93 836.87,515.28 838.10,517.20 C839.33,519.12 839.97,519.93 841.80,520.60 C843.63,521.27 847.88,521.10 849.10,521.20" fill="none" stroke="#484848" stroke-width="0.8"/>
<rect x="851.6" y="466.2" width="70" height="56" fill="#ffffff"/>
<rect x="852.6" y="484.7" width="70" height="36" fill="#fcfcfc"/>
<line x1="851.6" y1="467.2" x2="851.6" y2="521.2" stroke="#444" stroke-width="0.9"/>
<line x1="851.6" y1="520.7" x2="920.6" y2="520.7" stroke="#c4c4c4" stroke-width="1.7"/>
<circle cx="920.6" cy="520.7" r="0.9" fill="#222"/>
<path d="M853.30,520.90 C853.98,519.43 856.10,516.23 857.40,512.05 C858.70,507.87 859.98,499.76 861.10,495.80 C862.22,491.84 862.93,489.97 864.10,488.30 C865.27,486.63 866.80,485.92 868.15,485.80 C869.50,485.68 870.91,485.45 872.20,487.60 C873.49,489.75 874.53,495.12 875.90,498.70 C877.27,502.28 878.78,506.75 880.40,509.10 C882.02,511.45 883.88,512.55 885.60,512.80 C887.32,513.05 889.10,512.45 890.70,510.60 C892.30,508.75 893.77,504.05 895.20,501.70 C896.63,499.35 898.07,496.75 899.30,496.50 C900.53,496.25 901.55,498.10 902.60,500.20 C903.65,502.30 904.48,506.27 905.60,509.10 C906.72,511.93 908.07,515.28 909.30,517.20 C910.53,519.12 911.17,519.93 913.00,520.60 C914.83,521.27 919.08,521.10 920.30,521.20" fill="none" stroke="#484848" stroke-width="0.8"/>
<rect x="912.1" y="466.2" width="70" height="56" fill="#ffffff"/>
<rect x="913.1" y="484.7" width="70" height="36" fill="#fcfcfc"/>
<line x1="912.1" y1="467.2" x2="912.1" y2="521.2" stroke="#444" stroke-width="0.9"/>
<line x1="912.1" y1="520.7" x2="981.1" y2="520.7" stroke="#c4c4c4" stroke-width="1.7"/>
<circle cx="981.1" cy="520.7" r="0.9" fill="#222"/>
<path d="M913.80,520.90 C914.48,519.43 916.60,516.23 917.90,512.05 C919.20,507.87 920.48,499.76 921.60,495.80 C922.72,491.84 923.43,489.97 924.60,488.30 C925.77,486.63 927.30,485.92 928.65,485.80 C930.00,485.68 931.41,485.45 932.70,487.60 C933.99,489.75 935.03,495.12 936.40,498.70 C937.77,502.28 939.28,506.75 940.90,509.10 C942.52,511.45 944.38,512.55 946.10,512.80 C947.82,513.05 949.60,512.45 951.20,510.60 C952.80,508.75 954.27,504.05 955.70,501.70 C957.13,499.35 958.57,496.75 959.80,496.50 C961.03,496.25 962.05,498.10 963.10,500.20 C964.15,502.30 964.98,506.27 966.10,509.10 C967.22,511.93 968.57,515.28 969.80,517.20 C971.03,519.12 971.67,519.93 973.50,520.60 C975.33,521.27 979.58,521.10 980.80,521.20" fill="none" stroke="#484848" stroke-width="0.8"/>
<rect x="971.5" y="466.2" width="70" height="56" fill="#ffffff"/>
<rect x="972.5" y="484.7" width="70" height="36" fill="#fcfcfc"/>
<line x1="971.5" y1="467.2" x2="971.5" y2="521.2" stroke="#444" stroke-width="0.9"/>
<line x1="971.5" y1="520.7" x2="1040.5" y2="520.7" stroke="#c4c4c4" stroke-width="1.7"/>
<circle cx="1040.5" cy="520.7" r="0.9" fill="#222"/>
<path d="M973.20,520.90 C973.88,519.43 976.00,516.23 977.30,512.05 C978.60,507.87 979.88,499.76 981.00,495.80 C982.12,491.84 982.83,489.97 984.00,488.30 C985.17,486.63 986.70,485.92 988.05,485.80 C989.40,485.68 990.81,485.45 992.10,487.60 C993.39,489.75 994.43,495.12 995.80,498.70 C997.17,502.28 998.68,506.75 1000.30,509.10 C1001.92,511.45 1003.78,512.55 1005.50,512.80 C1007.22,513.05 1009.00,512.45 1010.60,510.60 C1012.20,508.75 1013.67,504.05 1015.10,501.70 C1016.53,499.35 1017.97,496.75 1019.20,496.50 C1020.43,496.25 1021.45,498.10 1022.50,500.20 C1023.55,502.30 1024.38,506.27 1025.50,509.10 C1026.62,511.93 1027.97,515.28 1029.20,517.20 C1030.43,519.12 1031.07,519.93 1032.90,520.60 C1034.73,521.27 1038.98,521.10 1040.20,521.20" fill="none" stroke="#484848" stroke-width="0.8"/>
<rect x="1031.5" y="466.2" width="70" height="56" fill="#ffffff"/>
<rect x="1032.5" y="484.7" width="70" height="36" fill="#fcfcfc"/>
<line x1="1031.5" y1="467.2" x2="1031.5" y2="521.2" stroke="#444" stroke-width="0.9"/>
<line x1="1031.5" y1="520.7" x2="1100.5" y2="520.7" stroke="#c4c4c4" stroke-width="1.7"/>
<circle cx="1100.5" cy="520.7" r="0.9" fill="#222"/>
<path d="M1033.20,520.90 C1033.88,519.43 1036.00,516.23 1037.30,512.05 C1038.60,507.87 1039.88,499.76 1041.00,495.80 C1042.12,491.84 1042.83,489.97 1044.00,488.30 C1045.17,486.63 1046.70,485.92 1048.05,485.80 C1049.40,485.68 1050.81,485.45 1052.10,487.60 C1053.39,489.75 1054.43,495.12 1055.80,498.70 C1057.17,502.28 1058.68,506.75 1060.30,509.10 C1061.92,511.45 1063.78,512.55 1065.50,512.80 C1067.22,513.05 1069.00,512.45 1070.60,510.60 C1072.20,508.75 1073.67,504.05 1075.10,501.70 C1076.53,499.35 1077.97,496.75 1079.20,496.50 C1080.43,496.25 1081.45,498.10 1082.50,500.20 C1083.55,502.30 1084.38,506.27 1085.50,509.10 C1086.62,511.93 1087.97,515.28 1089.20,517.20 C1090.43,519.12 1091.07,519.93 1092.90,520.60 C1094.73,521.27 1098.98,521.10 1100.20,521.20" fill="none" stroke="#484848" stroke-width="0.8"/>
<path d="M781.57,473.26 C782.99,472.51 787.09,470.08 790.11,468.77 C793.14,467.46 796.33,465.98 799.70,465.40 C803.06,464.81 806.80,465.14 810.30,465.27 C813.81,465.41 817.45,465.47 820.75,466.22 C824.05,466.97 827.14,468.42 830.10,469.79 C833.06,471.17 836.00,472.66 838.50,474.47 C841.00,476.29 843.54,478.37 845.11,480.66 C846.67,482.96 847.14,485.70 847.91,488.26 C848.69,490.81 849.80,493.41 849.76,495.99 C849.72,498.56 848.68,501.20 847.67,503.71 C846.66,506.21 845.52,508.80 843.71,511.02 C841.89,513.24 839.42,515.32 836.79,517.02 C834.15,518.73 830.98,519.99 827.90,521.24 C824.81,522.50 821.66,523.94 818.29,524.56 C814.92,525.18 811.16,525.18 807.68,524.97 C804.21,524.76 800.73,524.12 797.44,523.30 C794.16,522.49 790.97,521.40 787.99,520.10 C785.00,518.80 781.95,517.34 779.53,515.51 C777.10,513.68 775.03,511.41 773.43,509.13 C771.82,506.84 770.62,504.29 769.89,501.78 C769.16,499.26 768.95,496.61 769.05,494.03 C769.16,491.46 769.55,488.80 770.52,486.34 C771.49,483.87 773.11,481.49 774.88,479.25 C776.64,477.01 778.54,474.60 781.10,472.89 C783.66,471.17 787.12,470.16 790.23,468.94 C793.34,467.72 796.40,466.27 799.75,465.57 C803.10,464.86 806.86,464.54 810.33,464.71 C813.80,464.89 818.88,466.30 820.59,466.61" fill="none" stroke="#2f9e44" stroke-width="1.5" stroke-linecap="round"/>
<path d="M802.00,464.36 C803.79,464.27 809.26,463.46 812.74,463.79 C816.23,464.12 819.65,465.31 822.91,466.32 C826.18,467.33 829.45,468.39 832.32,469.86 C835.19,471.33 837.71,473.22 840.12,475.15 C842.52,477.09 845.23,479.10 846.76,481.45 C848.28,483.79 848.84,486.62 849.26,489.23 C849.68,491.84 849.65,494.52 849.28,497.11 C848.92,499.71 848.30,502.37 847.08,504.79 C845.85,507.21 844.02,509.57 841.93,511.63 C839.84,513.69 837.23,515.52 834.54,517.13 C831.85,518.75 828.86,520.09 825.78,521.33 C822.70,522.57 819.44,524.12 816.04,524.60 C812.64,525.08 808.91,524.41 805.36,524.19 C801.80,523.97 797.94,524.19 794.68,523.29 C791.43,522.39 788.58,520.43 785.81,518.81 C783.04,517.18 780.36,515.49 778.06,513.54 C775.77,511.58 773.48,509.42 772.04,507.08 C770.60,504.74 770.00,502.04 769.45,499.48 C768.89,496.91 768.60,494.30 768.69,491.69 C768.79,489.07 768.95,486.27 770.03,483.77 C771.11,481.27 773.08,478.85 775.17,476.70 C777.26,474.55 779.81,472.53 782.58,470.88 C785.36,469.24 788.60,467.96 791.82,466.83 C795.05,465.70 798.45,464.61 801.94,464.10 C805.42,463.58 809.23,463.42 812.75,463.74 C816.27,464.05 821.35,465.62 823.08,465.99" fill="none" stroke="#2f9e44" stroke-width="0.9" stroke-linecap="round" opacity="0.9"/>
<path d="M869.22,470.06 C870.78,469.46 875.25,467.18 878.56,466.43 C881.87,465.67 885.56,465.58 889.07,465.55 C892.58,465.51 896.23,465.59 899.62,466.20 C903.01,466.82 906.42,467.89 909.42,469.21 C912.42,470.54 915.21,472.29 917.61,474.15 C920.02,476.01 921.96,478.18 923.85,480.37 C925.75,482.55 928.03,484.79 928.98,487.25 C929.92,489.71 929.59,492.51 929.55,495.11 C929.51,497.71 929.54,500.38 928.72,502.88 C927.91,505.37 926.41,507.85 924.69,510.09 C922.96,512.33 920.75,514.41 918.37,516.31 C915.99,518.20 913.34,520.05 910.40,521.46 C907.46,522.88 904.10,524.15 900.72,524.78 C897.34,525.42 893.65,525.30 890.13,525.28 C886.61,525.27 882.97,525.34 879.61,524.71 C876.25,524.08 873.02,522.80 869.98,521.52 C866.94,520.24 863.86,518.81 861.36,517.03 C858.86,515.24 856.70,513.04 854.99,510.79 C853.28,508.55 852.00,506.05 851.10,503.56 C850.20,501.08 849.66,498.45 849.61,495.89 C849.56,493.33 850.06,490.72 850.78,488.18 C851.50,485.64 852.28,482.93 853.93,480.67 C855.57,478.40 858.13,476.36 860.66,474.57 C863.19,472.78 866.14,471.31 869.11,469.93 C872.09,468.55 875.18,467.09 878.50,466.28 C881.82,465.47 885.56,465.03 889.06,465.06 C892.57,465.09 896.18,465.71 899.53,466.47 C902.87,467.22 907.53,469.08 909.13,469.60" fill="none" stroke="#2f9e44" stroke-width="1.5" stroke-linecap="round"/>
<path d="M862.11,473.37 C863.48,472.57 867.31,469.75 870.34,468.53 C873.37,467.32 876.91,466.64 880.30,466.06 C883.69,465.48 887.22,465.03 890.68,465.06 C894.14,465.09 897.69,465.59 901.07,466.26 C904.44,466.93 907.86,467.83 910.96,469.08 C914.05,470.34 917.18,471.89 919.65,473.77 C922.12,475.65 924.21,478.00 925.78,480.35 C927.34,482.71 928.30,485.34 929.03,487.90 C929.76,490.46 930.19,493.11 930.13,495.71 C930.07,498.31 929.66,501.02 928.66,503.51 C927.65,505.99 925.97,508.42 924.10,510.61 C922.22,512.81 919.97,514.94 917.39,516.67 C914.81,518.39 911.69,519.72 908.62,520.94 C905.55,522.16 902.33,523.19 898.98,523.98 C895.62,524.78 891.94,525.82 888.48,525.71 C885.02,525.61 881.57,524.22 878.20,523.37 C874.84,522.53 871.36,521.91 868.30,520.64 C865.25,519.38 862.40,517.64 859.89,515.79 C857.38,513.94 854.81,511.85 853.24,509.52 C851.68,507.20 851.17,504.41 850.51,501.84 C849.86,499.27 849.24,496.67 849.33,494.09 C849.41,491.52 850.06,488.88 851.02,486.40 C851.98,483.91 853.29,481.40 855.07,479.17 C856.84,476.94 859.21,474.92 861.67,473.03 C864.13,471.14 866.77,469.14 869.82,467.82 C872.87,466.49 878.29,465.53 879.98,465.08" fill="none" stroke="#2f9e44" stroke-width="0.9" stroke-linecap="round" opacity="0.9"/>
<path d="M933.68,467.93 C935.34,467.56 940.25,466.25 943.66,465.76 C947.07,465.27 950.66,464.83 954.14,464.99 C957.62,465.15 961.29,465.74 964.53,466.72 C967.77,467.69 970.79,469.26 973.58,470.83 C976.38,472.41 979.21,474.14 981.30,476.18 C983.39,478.23 984.77,480.73 986.14,483.11 C987.50,485.49 988.80,487.93 989.50,490.46 C990.21,493.00 990.67,495.73 990.37,498.32 C990.07,500.91 989.00,503.55 987.71,505.99 C986.42,508.43 984.68,510.81 982.61,512.94 C980.55,515.06 978.12,517.18 975.33,518.73 C972.53,520.29 969.10,521.33 965.83,522.26 C962.57,523.19 959.17,523.93 955.76,524.31 C952.34,524.68 948.78,524.74 945.33,524.51 C941.88,524.29 938.31,523.84 935.03,522.97 C931.75,522.11 928.54,520.81 925.67,519.32 C922.79,517.82 919.97,516.04 917.77,514.01 C915.57,511.99 913.83,509.56 912.47,507.15 C911.11,504.74 910.13,502.15 909.59,499.57 C909.05,496.99 908.81,494.27 909.23,491.70 C909.64,489.12 910.79,486.54 912.10,484.13 C913.41,481.72 914.97,479.26 917.08,477.22 C919.19,475.19 922.07,473.57 924.77,471.92 C927.48,470.26 930.17,468.36 933.31,467.31 C936.45,466.25 940.14,466.00 943.62,465.58 C947.10,465.17 950.70,464.58 954.17,464.81 C957.64,465.03 961.21,465.90 964.42,466.92 C967.64,467.95 971.96,470.28 973.46,470.96" fill="none" stroke="#2f9e44" stroke-width="1.5" stroke-linecap="round"/>
<path d="M920.54,473.81 C921.85,472.92 925.43,469.91 928.36,468.47 C931.29,467.03 934.71,465.80 938.10,465.18 C941.49,464.55 945.22,464.66 948.72,464.73 C952.21,464.80 955.67,465.08 959.08,465.60 C962.49,466.12 966.07,466.71 969.20,467.85 C972.33,468.99 975.35,470.63 977.87,472.45 C980.38,474.26 982.53,476.48 984.26,478.74 C986.00,480.99 987.21,483.49 988.26,485.97 C989.32,488.46 990.55,491.09 990.57,493.65 C990.59,496.21 989.31,498.83 988.40,501.34 C987.50,503.85 986.67,506.42 985.12,508.72 C983.58,511.03 981.42,513.19 979.13,515.19 C976.83,517.18 974.32,519.30 971.34,520.70 C968.37,522.09 964.71,522.82 961.27,523.55 C957.83,524.29 954.24,525.08 950.72,525.10 C947.20,525.13 943.53,524.47 940.15,523.72 C936.77,522.97 933.48,521.89 930.45,520.61 C927.42,519.32 924.65,517.72 921.95,516.03 C919.25,514.34 916.20,512.63 914.26,510.46 C912.32,508.29 911.12,505.56 910.30,503.01 C909.49,500.46 909.25,497.73 909.36,495.14 C909.47,492.54 910.21,489.99 910.98,487.45 C911.74,484.92 912.46,482.29 913.97,479.95 C915.47,477.61 917.56,475.29 919.99,473.42 C922.43,471.54 925.51,470.00 928.56,468.72 C931.62,467.44 936.70,466.24 938.33,465.74" fill="none" stroke="#2f9e44" stroke-width="0.9" stroke-linecap="round" opacity="0.9"/>
<path d="M987.63,469.56 C989.28,469.09 994.16,467.41 997.52,466.72 C1000.88,466.04 1004.36,465.62 1007.81,465.46 C1011.27,465.30 1014.86,465.31 1018.26,465.78 C1021.66,466.25 1025.07,467.17 1028.21,468.30 C1031.35,469.42 1034.55,470.79 1037.10,472.53 C1039.66,474.27 1041.58,476.57 1043.52,478.74 C1045.46,480.92 1047.55,483.14 1048.73,485.57 C1049.91,488.01 1050.49,490.74 1050.63,493.34 C1050.76,495.94 1050.36,498.65 1049.54,501.16 C1048.73,503.68 1047.23,506.08 1045.73,508.43 C1044.22,510.79 1042.81,513.37 1040.51,515.30 C1038.22,517.22 1034.93,518.56 1031.97,519.98 C1029.00,521.39 1026.00,522.99 1022.70,523.78 C1019.41,524.57 1015.69,524.66 1012.20,524.72 C1008.71,524.77 1005.20,524.57 1001.77,524.12 C998.34,523.66 994.70,523.12 991.61,521.97 C988.52,520.82 985.86,518.93 983.21,517.21 C980.56,515.48 977.65,513.77 975.72,511.62 C973.79,509.48 972.56,506.84 971.61,504.34 C970.67,501.84 970.17,499.21 970.04,496.63 C969.90,494.06 970.12,491.41 970.79,488.89 C971.45,486.36 972.55,483.82 974.05,481.48 C975.54,479.15 977.50,476.87 979.76,474.88 C982.02,472.90 984.65,470.90 987.62,469.55 C990.58,468.20 994.19,467.53 997.55,466.79 C1000.91,466.06 1004.34,465.29 1007.79,465.14 C1011.24,464.99 1014.78,465.44 1018.23,465.89 C1021.68,466.34 1026.79,467.53 1028.51,467.86" fill="none" stroke="#e03131" stroke-width="1.5" stroke-linecap="round"/>
<path d="M981.41,473.75 C982.78,472.95 986.65,470.34 989.58,468.96 C992.51,467.58 995.68,466.35 998.99,465.47 C1002.30,464.59 1005.91,463.81 1009.44,463.67 C1012.97,463.53 1016.73,463.95 1020.17,464.63 C1023.61,465.31 1026.94,466.50 1030.08,467.77 C1033.22,469.05 1036.42,470.47 1039.01,472.28 C1041.61,474.10 1043.99,476.33 1045.64,478.65 C1047.28,480.98 1048.12,483.70 1048.87,486.25 C1049.62,488.81 1049.91,491.38 1050.13,494.00 C1050.35,496.62 1050.92,499.41 1050.21,501.97 C1049.51,504.52 1047.85,507.13 1045.90,509.31 C1043.96,511.48 1041.05,513.16 1038.56,515.03 C1036.07,516.90 1033.90,519.16 1030.97,520.54 C1028.05,521.92 1024.41,522.66 1021.00,523.31 C1017.60,523.96 1014.03,524.40 1010.54,524.43 C1007.06,524.45 1003.43,524.13 1000.07,523.46 C996.72,522.78 993.39,521.68 990.42,520.37 C987.44,519.05 984.74,517.34 982.23,515.56 C979.73,513.79 977.23,511.87 975.37,509.70 C973.51,507.53 972.24,505.04 971.09,502.55 C969.94,500.07 968.46,497.39 968.48,494.81 C968.50,492.24 970.33,489.68 971.21,487.10 C972.08,484.52 972.08,481.60 973.75,479.35 C975.42,477.10 978.62,475.40 981.21,473.61 C983.81,471.82 986.38,470.06 989.31,468.62 C992.24,467.17 997.20,465.54 998.78,464.92" fill="none" stroke="#e03131" stroke-width="0.9" stroke-linecap="round" opacity="0.9"/>
<path d="M1052.29,473.10 C1053.97,472.74 1058.94,471.45 1062.36,470.95 C1065.77,470.45 1069.32,469.96 1072.78,470.09 C1076.23,470.22 1079.72,470.95 1083.07,471.73 C1086.41,472.52 1089.99,473.34 1092.84,474.80 C1095.69,476.26 1097.97,478.46 1100.19,480.48 C1102.40,482.49 1104.49,484.59 1106.15,486.88 C1107.80,489.16 1109.52,491.65 1110.12,494.18 C1110.72,496.71 1110.08,499.45 1109.74,502.03 C1109.41,504.62 1109.10,507.23 1108.11,509.71 C1107.12,512.19 1105.72,514.72 1103.83,516.91 C1101.93,519.09 1099.47,521.19 1096.75,522.80 C1094.03,524.41 1090.69,525.54 1087.50,526.58 C1084.32,527.62 1081.02,528.54 1077.64,529.04 C1074.27,529.53 1070.74,529.59 1067.26,529.54 C1063.77,529.49 1060.00,529.53 1056.72,528.73 C1053.45,527.92 1050.51,526.19 1047.60,524.71 C1044.70,523.23 1041.70,521.74 1039.31,519.85 C1036.92,517.95 1034.74,515.69 1033.28,513.33 C1031.81,510.98 1031.09,508.29 1030.54,505.73 C1029.99,503.16 1029.85,500.55 1029.97,497.95 C1030.09,495.35 1030.20,492.59 1031.27,490.13 C1032.34,487.67 1034.30,485.29 1036.37,483.19 C1038.43,481.09 1041.02,479.26 1043.65,477.54 C1046.28,475.82 1049.03,474.01 1052.14,472.88 C1055.25,471.74 1058.86,471.15 1062.29,470.72 C1065.73,470.28 1069.32,470.05 1072.76,470.27 C1076.20,470.49 1079.59,471.27 1082.92,472.04 C1086.25,472.82 1091.09,474.44 1092.73,474.92" fill="none" stroke="#fcc419" stroke-width="1.5" stroke-linecap="round"/>
<path d="M1062.70,469.51 C1064.49,469.38 1069.96,468.37 1073.42,468.71 C1076.88,469.06 1080.20,470.54 1083.45,471.57 C1086.70,472.60 1089.99,473.48 1092.92,474.87 C1095.84,476.26 1098.58,478.01 1101.02,479.90 C1103.46,481.80 1105.91,483.91 1107.55,486.25 C1109.19,488.58 1110.38,491.30 1110.85,493.91 C1111.32,496.51 1110.85,499.28 1110.36,501.88 C1109.86,504.47 1109.06,507.04 1107.89,509.48 C1106.72,511.93 1105.28,514.39 1103.34,516.55 C1101.41,518.71 1098.91,520.66 1096.30,522.44 C1093.69,524.22 1090.89,526.18 1087.70,527.23 C1084.51,528.27 1080.67,528.25 1077.15,528.70 C1073.64,529.14 1070.10,530.00 1066.60,529.90 C1063.09,529.80 1059.47,529.01 1056.11,528.13 C1052.76,527.24 1049.41,526.07 1046.48,524.57 C1043.56,523.08 1040.81,521.19 1038.57,519.16 C1036.33,517.12 1034.41,514.75 1033.02,512.35 C1031.63,509.95 1030.80,507.31 1030.26,504.74 C1029.71,502.17 1029.48,499.51 1029.76,496.93 C1030.04,494.35 1030.86,491.76 1031.92,489.27 C1032.99,486.77 1034.09,484.06 1036.13,481.98 C1038.18,479.90 1041.39,478.37 1044.18,476.79 C1046.97,475.20 1049.78,473.69 1052.86,472.46 C1055.94,471.22 1059.25,469.82 1062.66,469.35 C1066.07,468.88 1069.85,469.28 1073.32,469.64 C1076.79,470.00 1081.78,471.21 1083.48,471.52" fill="none" stroke="#fcc419" stroke-width="0.9" stroke-linecap="round" opacity="0.9"/>
<path d="M1162.89,446.20 C1165.96,445.13 1174.28,441.74 1181.32,439.81 C1188.35,437.88 1196.34,436.03 1205.11,434.62 C1213.87,433.21 1223.91,432.11 1233.91,431.34 C1243.90,430.56 1254.66,430.04 1265.08,429.98 C1275.50,429.91 1286.29,430.30 1296.41,430.92 C1306.53,431.54 1316.63,432.48 1325.79,433.70 C1334.96,434.92 1343.73,436.48 1351.41,438.24 C1359.08,439.99 1366.21,442.03 1371.85,444.21 C1377.49,446.40 1382.19,448.87 1385.25,451.36 C1388.32,453.85 1389.94,456.55 1390.25,459.15 C1390.55,461.75 1389.40,464.44 1387.08,466.98 C1384.77,469.52 1381.15,472.07 1376.36,474.38 C1371.57,476.69 1365.39,478.93 1358.34,480.85 C1351.30,482.77 1342.92,484.51 1334.10,485.90 C1325.28,487.30 1315.41,488.44 1305.45,489.22 C1295.48,490.00 1284.74,490.49 1274.31,490.58 C1263.89,490.68 1253.00,490.41 1242.88,489.80 C1232.76,489.18 1222.84,488.12 1213.59,486.91 C1204.34,485.70 1195.03,484.29 1187.39,482.53 C1179.75,480.77 1173.27,478.57 1167.75,476.35 C1162.24,474.14 1157.40,471.71 1154.31,469.23 C1151.22,466.74 1149.67,464.06 1149.24,461.45 C1148.81,458.84 1149.39,456.12 1151.73,453.58 C1154.07,451.05 1158.32,448.54 1163.27,446.25 C1168.21,443.96 1174.33,441.73 1181.39,439.83 C1188.44,437.92 1196.78,436.18 1205.57,434.80 C1214.37,433.43 1224.25,432.35 1234.17,431.55 C1244.08,430.75 1259.93,430.26 1265.08,430.01" fill="none" stroke="#fcc419" stroke-width="1.5" stroke-linecap="round"/>
<path d="M1217.23,432.39 C1222.21,431.98 1236.88,430.42 1247.12,429.88 C1257.37,429.34 1268.29,428.98 1278.69,429.16 C1289.10,429.35 1299.76,430.08 1309.56,430.99 C1319.36,431.91 1328.79,433.21 1337.49,434.67 C1346.19,436.13 1354.86,437.79 1361.76,439.76 C1368.66,441.72 1374.30,444.08 1378.92,446.45 C1383.53,448.82 1387.65,451.40 1389.44,453.98 C1391.23,456.56 1390.58,459.31 1389.66,461.93 C1388.73,464.55 1387.15,467.22 1383.91,469.71 C1380.67,472.20 1376.01,474.69 1370.22,476.88 C1364.42,479.07 1357.05,481.11 1349.12,482.84 C1341.18,484.57 1332.12,486.16 1322.63,487.25 C1313.14,488.33 1302.46,488.91 1292.16,489.36 C1281.85,489.81 1271.15,490.11 1260.80,489.92 C1250.45,489.74 1239.88,489.11 1230.07,488.24 C1220.26,487.37 1210.73,486.14 1201.95,484.72 C1193.17,483.29 1184.31,481.66 1177.42,479.69 C1170.53,477.73 1165.16,475.31 1160.60,472.93 C1156.04,470.55 1151.96,468.00 1150.07,465.42 C1148.18,462.84 1148.47,460.09 1149.26,457.46 C1150.05,454.83 1151.42,452.11 1154.83,449.63 C1158.24,447.16 1163.71,444.76 1169.74,442.61 C1175.76,440.47 1183.11,438.49 1190.97,436.76 C1198.82,435.03 1207.55,433.40 1216.88,432.21 C1226.21,431.02 1236.66,430.08 1246.94,429.64 C1257.22,429.20 1273.30,429.57 1278.57,429.56" fill="none" stroke="#fcc419" stroke-width="0.9" stroke-linecap="round" opacity="0.9"/>
<text x="1174.0" y="448.4" font-size="19" textLength="198.6" lengthAdjust="spacingAndGlyphs" fill="#1e1e1e" stroke="#1e1e1e" stroke-width="0.2" >not utilized because</text>
<text x="1168.8" y="472.4" font-size="19" textLength="209.0" lengthAdjust="spacingAndGlyphs" fill="#1e1e1e" stroke="#1e1e1e" stroke-width="0.2" >we rejected before it</text>
<path d="M1107.7,510.5 C1130,511 1152,511.5 1170,509 C1195,505 1210,497 1227.7,489" fill="none" stroke="#fcc419" stroke-width="1.7" stroke-linecap="round"/>
<path d="M1203.7,491.1 L1227.7,489 L1210,506.4" fill="none" stroke="#fcc419" stroke-width="1.7" stroke-linecap="round" stroke-linejoin="round"/>
<text x="669.1" y="598.3" font-size="19" textLength="124.9" lengthAdjust="spacingAndGlyphs" fill="#1e1e1e" stroke="#1e1e1e" stroke-width="0.2" >assumptions:</text>
<text x="669.1" y="622.6" font-size="19" textLength="606.3" lengthAdjust="spacingAndGlyphs" fill="#1e1e1e" stroke="#1e1e1e" stroke-width="0.2" >* for tokens "is" and "Ale" target prob &gt; draft prob =&gt; accept</text>
<text x="669.1" y="647.0" font-size="19" textLength="832.9" lengthAdjust="spacingAndGlyphs" fill="#1e1e1e" stroke="#1e1e1e" stroke-width="0.2" >* for token "ksa" target prob &lt; draft prob but after sampling we ended up keeping it</text>
<text x="669.1" y="672.1" font-size="19" textLength="696.6" lengthAdjust="spacingAndGlyphs" fill="#1e1e1e" stroke="#1e1e1e" stroke-width="0.2" >* for token "ndar" target prob &lt;&lt; draft prob so we end up rejecting it!</text>
<path d="M145.18,716.69 C146.78,715.90 151.45,713.19 154.76,711.94 C158.07,710.70 161.56,709.59 165.04,709.21 C168.52,708.84 172.19,709.13 175.66,709.69 C179.13,710.24 182.64,711.17 185.87,712.55 C189.09,713.93 192.19,715.84 194.99,717.98 C197.79,720.12 200.53,722.60 202.69,725.39 C204.85,728.19 206.72,731.46 207.94,734.77 C209.16,738.08 209.72,741.75 209.99,745.26 C210.26,748.77 210.06,752.36 209.56,755.84 C209.06,759.31 208.27,762.85 206.98,766.12 C205.69,769.40 204.03,772.78 201.81,775.51 C199.60,778.23 196.60,780.45 193.71,782.49 C190.82,784.53 187.75,786.48 184.48,787.76 C181.22,789.04 177.65,789.70 174.14,790.19 C170.63,790.68 166.92,791.15 163.42,790.69 C159.93,790.23 156.35,788.97 153.17,787.43 C149.99,785.88 147.05,783.70 144.35,781.44 C141.66,779.17 139.12,776.64 136.99,773.85 C134.85,771.07 132.91,767.97 131.55,764.72 C130.18,761.48 129.24,757.90 128.80,754.38 C128.35,750.87 128.28,747.12 128.89,743.65 C129.51,740.19 130.98,736.78 132.48,733.59 C133.97,730.39 135.76,727.31 137.87,724.48 C139.98,721.65 142.32,718.74 145.12,716.61 C147.93,714.49 151.35,712.95 154.67,711.73 C157.99,710.51 161.55,709.69 165.05,709.31 C168.55,708.94 172.16,709.09 175.69,709.49 C179.22,709.89 184.47,711.35 186.23,711.73" fill="none" stroke="#1e1e1e" stroke-width="2.3" stroke-linecap="round"/>
<path d="M144.12,716.62 C145.70,715.77 150.29,712.85 153.59,711.50 C156.89,710.15 160.38,709.19 163.90,708.55 C167.43,707.91 171.15,707.39 174.74,707.66 C178.33,707.93 182.17,708.71 185.43,710.18 C188.70,711.66 191.61,714.17 194.33,716.51 C197.05,718.84 199.45,721.45 201.73,724.19 C204.01,726.94 206.63,729.74 208.01,732.97 C209.38,736.20 209.69,740.04 209.97,743.57 C210.26,747.10 209.94,750.58 209.71,754.14 C209.47,757.70 209.76,761.63 208.55,764.93 C207.34,768.23 204.65,771.07 202.46,773.94 C200.26,776.80 198.16,779.96 195.36,782.14 C192.56,784.31 188.97,785.56 185.64,786.98 C182.32,788.41 178.93,790.18 175.41,790.68 C171.90,791.19 168.06,790.66 164.55,790.02 C161.03,789.38 157.55,788.27 154.33,786.83 C151.11,785.39 148.14,783.43 145.25,781.39 C142.35,779.35 139.28,777.27 136.96,774.60 C134.65,771.93 132.84,768.63 131.34,765.37 C129.84,762.10 128.30,758.53 127.97,755.01 C127.64,751.48 128.82,747.80 129.35,744.24 C129.87,740.68 129.87,736.94 131.11,733.66 C132.36,730.37 134.64,727.35 136.82,724.52 C139.00,721.70 141.37,718.82 144.19,716.71 C147.01,714.60 150.45,713.17 153.74,711.85 C157.03,710.53 162.24,709.29 163.94,708.78" fill="none" stroke="#1e1e1e" stroke-width="0.9" stroke-linecap="round" opacity="0.9"/>
<text x="154.8" y="756.0" font-size="25" textLength="30.1" lengthAdjust="spacingAndGlyphs" fill="#1e1e1e" stroke="#1e1e1e" stroke-width="0.2" >3)</text>
<path d="M905.40,717.53 C907.00,716.71 911.70,714.04 914.97,712.62 C918.23,711.20 921.53,709.75 924.99,709.02 C928.45,708.28 932.16,707.97 935.72,708.20 C939.27,708.43 943.04,709.06 946.32,710.38 C949.60,711.71 952.59,714.00 955.40,716.17 C958.20,718.35 960.75,720.79 963.13,723.42 C965.52,726.05 968.05,728.80 969.69,731.95 C971.32,735.09 972.44,738.77 972.96,742.29 C973.48,745.81 973.31,749.57 972.81,753.08 C972.32,756.59 971.13,759.97 969.99,763.34 C968.84,766.71 967.91,770.40 965.94,773.30 C963.97,776.21 960.94,778.48 958.18,780.77 C955.43,783.07 952.62,785.52 949.43,787.04 C946.24,788.57 942.56,789.34 939.04,789.94 C935.51,790.53 931.79,791.03 928.28,790.62 C924.78,790.22 921.36,788.74 918.01,787.51 C914.67,786.27 911.07,785.21 908.20,783.20 C905.32,781.19 902.99,778.23 900.78,775.46 C898.56,772.69 896.50,769.74 894.90,766.58 C893.30,763.42 891.88,759.97 891.19,756.48 C890.51,753.00 890.33,749.20 890.77,745.68 C891.22,742.17 892.54,738.69 893.87,735.41 C895.20,732.12 896.76,728.89 898.75,725.99 C900.74,723.09 903.14,720.32 905.81,718.01 C908.47,715.71 911.56,713.65 914.76,712.18 C917.96,710.70 921.53,709.67 925.01,709.14 C928.49,708.62 932.14,708.67 935.64,709.02 C939.14,709.36 944.29,710.83 946.02,711.20" fill="none" stroke="#1e1e1e" stroke-width="2.3" stroke-linecap="round"/>
<path d="M918.29,709.18 C920.10,709.07 925.54,708.68 929.14,708.52 C932.74,708.37 936.34,707.77 939.87,708.24 C943.39,708.71 947.17,709.66 950.28,711.34 C953.38,713.02 955.78,715.97 958.52,718.31 C961.26,720.65 964.75,722.51 966.72,725.39 C968.70,728.27 969.28,732.16 970.39,735.58 C971.50,738.99 973.00,742.37 973.38,745.88 C973.75,749.39 973.31,753.13 972.64,756.64 C971.96,760.15 970.96,763.77 969.34,766.93 C967.72,770.08 965.31,772.93 962.93,775.57 C960.55,778.22 957.94,780.77 955.04,782.82 C952.14,784.87 948.88,786.73 945.53,787.88 C942.17,789.04 938.48,789.49 934.91,789.76 C931.34,790.04 927.59,790.20 924.10,789.53 C920.61,788.86 917.15,787.38 913.97,785.76 C910.79,784.14 907.58,782.23 905.00,779.83 C902.42,777.44 900.53,774.31 898.49,771.39 C896.45,768.47 894.04,765.60 892.76,762.32 C891.48,759.04 890.96,755.25 890.82,751.71 C890.68,748.17 891.32,744.59 891.92,741.06 C892.52,737.54 893.02,733.83 894.44,730.56 C895.86,727.30 898.01,724.11 900.43,721.47 C902.84,718.83 905.87,716.57 908.92,714.73 C911.96,712.88 915.35,711.56 918.71,710.40 C922.07,709.24 925.59,707.98 929.09,707.75 C932.59,707.52 937.94,708.83 939.71,709.04" fill="none" stroke="#1e1e1e" stroke-width="0.9" stroke-linecap="round" opacity="0.9"/>
<text x="918.4" y="757.5" font-size="25" textLength="29.6" lengthAdjust="spacingAndGlyphs" fill="#1e1e1e" stroke="#1e1e1e" stroke-width="0.2" >4)</text>
<text x="30.7" y="840.7" font-size="26" textLength="309.8" lengthAdjust="spacingAndGlyphs" fill="#1e1e1e" stroke="#1e1e1e" stroke-width="0.2" >verify w/ target model</text>
<text x="830.2" y="834.8" font-size="26" textLength="238.3" lengthAdjust="spacingAndGlyphs" fill="#1e1e1e" stroke="#1e1e1e" stroke-width="0.2" >rejection sampling</text>
<text x="169.9" y="928.0" font-size="19" textLength="986.6" lengthAdjust="spacingAndGlyphs" fill="#1e1e1e" stroke="#1e1e1e" stroke-width="0.2" >We end up feeding ["Hello", ",", "my", "name", "is", "Ale", "ksa"] into the drafter - and the loop continues!</text>
</g></svg>
</body></html>
